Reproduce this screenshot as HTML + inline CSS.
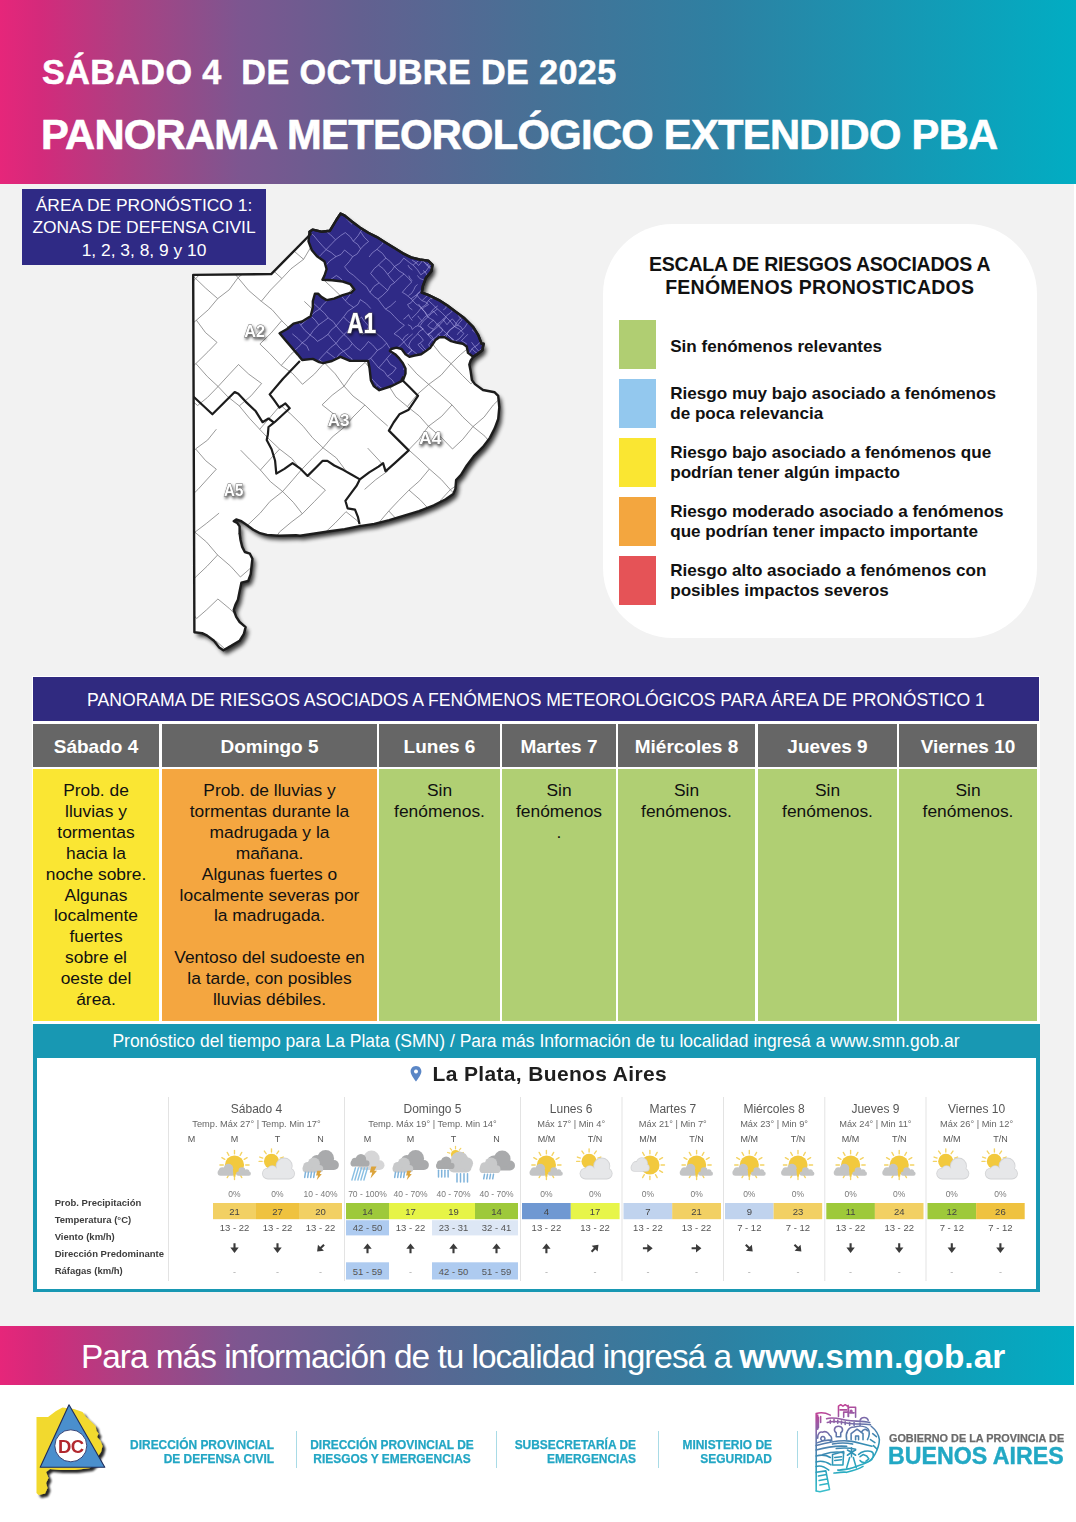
<!DOCTYPE html>
<html lang="es">
<head>
<meta charset="utf-8">
<title>Panorama Meteorológico Extendido PBA</title>
<style>
*{margin:0;padding:0;box-sizing:border-box}
html,body{width:1076px;height:1522px;overflow:hidden;background:#fff}
body{position:relative;font-family:"Liberation Sans",Arial,sans-serif;color:#111}
.abs{position:absolute}
.grad{background:linear-gradient(90deg,#e6267a 0%,#d42a7b 3.7%,#ae3f82 11.2%,#7d5690 22.3%,#636090 33.5%,#467196 50.2%,#2e80a2 66.7%,#1797b3 83.3%,#01adc3 100%)}
#hdr{left:0;top:0;width:1076px;height:184px}
#hdr .l1{left:42px;top:52.5px;font-size:34.2px;letter-spacing:0.37px;-webkit-text-stroke:0.5px #fff;font-weight:bold;color:#fff;white-space:nowrap}
#hdr .l2{left:41px;top:111.3px;font-size:41.7px;letter-spacing:-0.71px;-webkit-text-stroke:0.6px #fff;font-weight:bold;color:#fff;white-space:nowrap}
#main{left:0;top:184px;width:1074px;height:1142px;background:#f2f2f2}
#area{left:22px;top:189px;width:244px;height:76px;background:#2f2a85;color:#fff;text-align:center;font-size:17.4px;line-height:22.4px;padding-top:5px;letter-spacing:0px}
#legend{left:602.7px;top:223.8px;width:434.5px;height:413.8px;background:#fff;border-radius:70px}
.lt{left:0;width:434px;text-align:center;font-weight:bold;font-size:19.5px;line-height:22.7px;color:#111}
.sw{left:16px;width:37px;height:49px}
.li{left:67.5px;margin-top:0.8px;font-weight:bold;font-size:17.1px;line-height:20.5px;color:#111;white-space:nowrap}
#ttl{left:33px;top:677px;width:1006px;height:44px;background:#302a80;color:#fff;text-align:center;font-size:17.6px;line-height:46px}
.th{top:724px;height:43px;background:#666;color:#fff;text-align:center;font-weight:bold;font-size:19px;line-height:45px}
.td{top:769px;height:252px;text-align:center;font-size:17.4px;line-height:20.9px;color:#111;padding-top:11px}
.yel{background:#fae633}.org{background:#f4a640}.grn{background:#b0cf73}
#smn{left:33px;top:1023.5px;width:1006.5px;height:268px;background:#1898b3}
#tblbg{left:32px;top:676px;width:1008px;height:348px;background:#fff}
#smnh{left:0;top:0;width:1006px;height:34px;color:#fff;text-align:center;font-size:17.5px;line-height:35px}
#smnb{left:4px;top:34.5px;width:998.5px;height:230.5px;background:#fff}
#ban{left:0;top:1326px;width:1074px;height:59px}
#ban .t{left:81px;top:12px;font-size:33.4px;color:#fff;white-space:nowrap}
#ban .t span{letter-spacing:-1px}
#foot{left:0;top:0;width:1076px;height:1522px;pointer-events:none}
.ft{font:bold 11.95px "Liberation Sans",Arial,sans-serif;color:#22a6c4;-webkit-text-stroke:0.25px #22a6c4;line-height:14.4px;white-space:nowrap;margin-top:1.7px}
.vd{top:1431px;width:1px;height:37px;background:#a9dbe6}
</style>
</head>
<body>
<div id="hdr" class="abs grad">
  <div class="abs l1">SÁBADO 4&nbsp; DE OCTUBRE DE 2025</div>
  <div class="abs l2">PANORAMA METEOROLÓGICO EXTENDIDO PBA</div>
</div>
<div id="main" class="abs"></div>

<div id="area" class="abs">ÁREA DE PRONÓSTICO 1:<br>ZONAS DE DEFENSA CIVIL<br>1, 2, 3, 8, 9 y 10</div>

<!--MAP-->
<svg class="abs" style="left:180px;top:200px" width="340" height="460" viewBox="180 200 340 460">
<defs><filter id="sh" x="-10%" y="-10%" width="130%" height="130%"><feGaussianBlur in="SourceAlpha" stdDeviation="2"/><feOffset dx="3" dy="4" result="b"/><feComponentTransfer><feFuncA type="linear" slope="0.8"/></feComponentTransfer><feMerge><feMergeNode/><feMergeNode in="SourceGraphic"/></feMerge></filter>
<filter id="ts" x="-30%" y="-30%" width="160%" height="170%"><feGaussianBlur in="SourceAlpha" stdDeviation="1.6"/><feOffset dx="1" dy="2"/><feComponentTransfer><feFuncA type="linear" slope="0.7"/></feComponentTransfer><feMerge><feMergeNode/><feMergeNode in="SourceGraphic"/></feMerge></filter>
<clipPath id="pc"><path d="M193.2,274.9 L271.2,274.1 L310.7,234.0 L309.5,231.7 L312.8,229.6 L321.3,231.7 L329.9,230.7 L333.1,225.3 L336.3,220.0 L340.5,213.6 L344.8,215.7 L351.2,221.0 L359.8,227.4 L368.3,232.8 L376.9,237.1 L385.4,242.4 L394.0,247.8 L402.5,253.1 L411.1,257.4 L419.6,259.5 L428.2,260.6 L432.5,264.9 L431.4,271.3 L426.0,277.7 L422.8,286.2 L421.8,292.6 L428.2,294.8 L438.9,300.1 L447.4,305.5 L456.0,311.9 L464.5,318.3 L473.1,326.8 L478.4,335.4 L481.6,343.9 L483.6,343.8 L482.3,350.3 L477.1,354.2 L473.2,356.8 L470.6,360.7 L469.3,364.6 L470.6,371.1 L471.9,380.1 L474.9,384.1 L483.0,390.0 L494.7,392.3 L498.2,395.8 L499.3,407.4 L498.2,419.0 L494.7,428.3 L490.0,437.6 L483.0,446.9 L473.8,456.2 L466.8,465.5 L461.0,474.8 L456.1,480.0 L455.4,488.9 L453.2,494.1 L445.7,499.3 L433.8,505.3 L419.0,511.2 L404.1,515.7 L389.2,520.1 L374.3,523.9 L359.5,526.1 L344.6,529.1 L329.7,531.3 L314.9,533.5 L300.0,535.8 L296.0,535.2 L278.9,535.8 L267.0,534.9 L260.1,533.2 L253.3,529.8 L246.5,524.7 L241.4,521.2 L236.2,519.5 L233.7,521.2 L237.1,522.9 L239.6,526.4 L239.6,533.2 L240.5,540.0 L242.2,546.9 L244.8,552.0 L249.9,553.7 L252.4,558.8 L251.6,565.6 L250.7,574.2 L248.2,581.0 L241.4,582.7 L239.6,591.2 L237.9,599.8 L235.4,604.9 L233.7,610.0 L236.2,616.9 L239.6,622.0 L245.6,627.1 L243.9,633.9 L239.6,640.8 L231.1,645.9 L223.4,650.2 L219.2,647.6 L214.0,640.8 L207.2,635.6 L202.1,633.1 L194.4,632.2Z"/></clipPath><clipPath id="a1c"><path d="M309.5,231.7 L312.8,229.6 L321.3,231.7 L329.9,230.7 L333.1,225.3 L336.3,220.0 L340.5,213.6 L344.8,215.7 L351.2,221.0 L359.8,227.4 L368.3,232.8 L376.9,237.1 L385.4,242.4 L394.0,247.8 L402.5,253.1 L411.1,257.4 L419.6,259.5 L428.2,260.6 L432.5,264.9 L431.4,271.3 L426.0,277.7 L422.8,286.2 L421.8,292.6 L428.2,294.8 L438.9,300.1 L447.4,305.5 L456.0,311.9 L464.5,318.3 L473.1,326.8 L478.4,335.4 L481.6,343.9 L483.6,343.8 L482.3,350.3 L477.1,354.2 L473.2,356.8 L468.0,352.9 L466.7,346.4 L462.8,343.8 L456.3,342.5 L451.1,341.2 L444.6,337.2 L439.4,337.2 L435.5,339.9 L432.9,343.8 L430.3,347.7 L425.1,351.6 L421.2,354.2 L414.6,355.5 L409.4,356.8 L405.5,354.2 L401.6,349.0 L396.4,347.7 L391.2,349.0 L389.9,350.9 L395.1,354.2 L399.0,358.1 L402.9,363.3 L405.5,368.5 L405.5,373.7 L403.0,380.4 L391.8,386.0 L379.3,390.2 L373.7,386.0 L370.9,380.4 L369.5,367.9 L368.1,360.9 L358.4,360.9 L350.0,360.9 L340.5,356.8 L332.0,361.0 L323.4,363.2 L319.2,362.1 L312.8,358.9 L302.1,360.0 L297.8,354.6 L291.4,347.1 L285.0,339.7 L279.6,333.3 L287.1,329.0 L293.5,323.6 L302.1,321.5 L310.6,316.2 L312.8,307.6 L312.8,301.2 L314.9,293.7 L318.1,293.7 L321.3,296.9 L326.6,300.1 L334.1,298.6 L342.7,295.2 L351.2,292.6 L354.4,289.4 L350.2,284.1 L342.7,281.5 L332.0,280.2 L322.4,279.8 L324.5,275.5 L326.6,269.1 L324.5,261.6 L317.0,256.3 L311.7,249.9 L308.5,241.3Z"/></clipPath></defs>
<style>.ml{font-family:"Liberation Sans",Arial,sans-serif;font-weight:bold;fill:#fff;stroke:#6a6a6a;stroke-width:0.9;paint-order:stroke;filter:url(#ts)}</style>
<path d="M193.2,274.9 L271.2,274.1 L310.7,234.0 L309.5,231.7 L312.8,229.6 L321.3,231.7 L329.9,230.7 L333.1,225.3 L336.3,220.0 L340.5,213.6 L344.8,215.7 L351.2,221.0 L359.8,227.4 L368.3,232.8 L376.9,237.1 L385.4,242.4 L394.0,247.8 L402.5,253.1 L411.1,257.4 L419.6,259.5 L428.2,260.6 L432.5,264.9 L431.4,271.3 L426.0,277.7 L422.8,286.2 L421.8,292.6 L428.2,294.8 L438.9,300.1 L447.4,305.5 L456.0,311.9 L464.5,318.3 L473.1,326.8 L478.4,335.4 L481.6,343.9 L483.6,343.8 L482.3,350.3 L477.1,354.2 L473.2,356.8 L470.6,360.7 L469.3,364.6 L470.6,371.1 L471.9,380.1 L474.9,384.1 L483.0,390.0 L494.7,392.3 L498.2,395.8 L499.3,407.4 L498.2,419.0 L494.7,428.3 L490.0,437.6 L483.0,446.9 L473.8,456.2 L466.8,465.5 L461.0,474.8 L456.1,480.0 L455.4,488.9 L453.2,494.1 L445.7,499.3 L433.8,505.3 L419.0,511.2 L404.1,515.7 L389.2,520.1 L374.3,523.9 L359.5,526.1 L344.6,529.1 L329.7,531.3 L314.9,533.5 L300.0,535.8 L296.0,535.2 L278.9,535.8 L267.0,534.9 L260.1,533.2 L253.3,529.8 L246.5,524.7 L241.4,521.2 L236.2,519.5 L233.7,521.2 L237.1,522.9 L239.6,526.4 L239.6,533.2 L240.5,540.0 L242.2,546.9 L244.8,552.0 L249.9,553.7 L252.4,558.8 L251.6,565.6 L250.7,574.2 L248.2,581.0 L241.4,582.7 L239.6,591.2 L237.9,599.8 L235.4,604.9 L233.7,610.0 L236.2,616.9 L239.6,622.0 L245.6,627.1 L243.9,633.9 L239.6,640.8 L231.1,645.9 L223.4,650.2 L219.2,647.6 L214.0,640.8 L207.2,635.6 L202.1,633.1 L194.4,632.2Z" fill="#fff" filter="url(#sh)"/>
<path clip-path="url(#pc)" stroke="#6e6e6e" stroke-width="0.7" fill="none" d="M173.9,213.9 L165.0,225.0 L155.0,235.5 M218.5,216.6 L205.6,224.5 L195.3,235.3 M195.3,235.3 L185.4,246.5 L174.4,257.2 M174.4,257.2 L183.5,266.2 L195.7,278.6 M259.8,216.3 L272.1,226.6 L281.1,238.0 M237.6,238.3 L250.0,246.7 L260.3,256.9 M237.6,238.3 L227.5,245.9 L217.2,256.2 M217.2,256.2 L228.7,266.2 L238.0,277.7 M217.2,256.2 L207.4,266.4 L195.7,278.6 M195.7,278.6 L205.7,288.2 L217.7,298.6 M195.7,278.6 L185.1,289.2 L173.5,299.9 M173.5,299.9 L164.3,312.2 L153.8,322.1 M302.7,216.2 L311.0,225.4 L322.6,234.9 M302.7,216.2 L291.8,227.9 L281.1,238.0 M281.1,238.0 L291.0,248.5 L303.6,259.3 M281.1,238.0 L269.8,247.2 L260.3,256.9 M260.3,256.9 L269.6,267.2 L281.9,278.5 M260.3,256.9 L250.7,267.5 L238.0,277.7 M238.0,277.7 L248.6,290.4 L261.3,301.3 M238.0,277.7 L229.2,289.8 L217.7,298.6 M217.7,298.6 L208.6,309.5 L196.4,320.2 M196.4,320.2 L205.5,332.6 L217.0,342.4 M196.4,320.2 L184.3,330.6 L175.3,342.6 M175.3,342.6 L165.6,352.4 L154.2,365.2 M345.9,213.9 L354.6,225.0 L364.6,238.3 M322.6,234.9 L332.8,248.7 L345.7,259.0 M322.6,234.9 L311.9,245.3 L303.6,259.3 M303.6,259.3 L291.0,268.8 L281.9,278.5 M281.9,278.5 L270.7,289.9 L261.3,301.3 M261.3,301.3 L272.1,309.7 L281.7,320.7 M217.0,342.4 L207.9,351.8 L195.9,363.6 M195.9,363.6 L207.3,376.5 L218.1,386.5 M195.9,363.6 L184.8,373.5 L175.8,386.6 M175.8,386.6 L185.4,395.0 L197.6,405.5 M410.2,195.2 L422.1,204.8 L430.9,215.1 M387.7,214.6 L400.6,225.1 L410.2,237.5 M387.7,214.6 L376.2,228.1 L364.6,238.3 M364.6,238.3 L378.4,249.3 L388.6,259.5 M364.6,238.3 L356.4,247.6 L345.7,259.0 M345.7,259.0 L333.5,270.8 L323.2,279.4 M323.2,279.4 L333.2,288.7 L343.9,299.1 M304.3,301.4 L312.8,309.4 L322.3,319.8 M281.7,320.7 L292.6,331.5 L302.8,344.0 M281.7,320.7 L271.0,333.2 L259.9,344.0 M259.9,344.0 L269.6,353.4 L281.2,365.5 M238.5,364.5 L248.7,374.1 L261.6,383.5 M238.5,364.5 L229.7,373.9 L218.1,386.5 M218.1,386.5 L227.5,396.5 L239.3,405.9 M218.1,386.5 L207.5,397.4 L197.6,405.5 M173.5,426.6 L165.2,437.5 L153.8,449.0 M430.9,215.1 L441.8,224.0 L449.8,235.8 M430.9,215.1 L419.8,225.6 L410.2,237.5 M388.6,259.5 L398.1,270.5 L407.4,279.0 M365.3,277.3 L353.2,287.3 L343.9,299.1 M343.9,299.1 L334.2,310.9 L322.3,319.8 M322.3,319.8 L311.0,333.3 L302.8,344.0 M302.8,344.0 L312.4,354.1 L324.4,362.8 M302.8,344.0 L291.0,354.2 L281.2,365.5 M281.2,365.5 L292.5,373.4 L302.5,384.3 M261.6,383.5 L251.1,395.8 L239.3,405.9 M239.3,405.9 L249.4,418.2 L259.7,429.3 M216.4,429.2 L207.6,440.1 L195.6,448.9 M195.6,448.9 L205.7,460.7 L216.3,469.2 M195.6,448.9 L185.4,461.9 L175.8,471.6 M175.8,471.6 L166.1,480.7 L154.7,490.8 M471.4,215.1 L481.3,225.2 L493.1,237.5 M471.4,215.1 L459.0,224.1 L449.8,235.8 M449.8,235.8 L460.0,245.9 L470.7,259.1 M449.8,235.8 L442.0,246.8 L431.1,257.2 M431.1,257.2 L442.6,267.9 L452.7,279.0 M431.1,257.2 L419.2,266.4 L407.4,279.0 M407.4,279.0 L396.6,292.0 L386.8,301.7 M324.4,362.8 L335.2,373.8 L344.1,386.2 M324.4,362.8 L314.6,373.9 L302.5,384.3 M280.5,405.2 L290.8,414.1 L303.3,426.4 M280.5,405.2 L270.9,416.4 L259.7,429.3 M259.7,429.3 L267.9,438.0 L279.6,449.1 M240.7,450.2 L249.6,459.3 L260.4,470.0 M216.3,469.2 L205.7,480.9 L197.9,489.5 M197.9,489.5 L186.4,500.7 L176.1,511.6 M176.1,511.6 L185.2,521.8 L194.9,532.2 M176.1,511.6 L164.4,520.2 L155.8,531.8 M514.1,216.1 L523.7,226.4 L536.4,235.7 M493.1,237.5 L505.0,248.3 L514.8,257.6 M493.1,237.5 L481.9,247.2 L470.7,259.1 M470.7,259.1 L460.1,267.8 L452.7,279.0 M452.7,279.0 L442.1,288.7 L429.9,300.3 M408.8,319.7 L420.4,330.1 L431.5,342.7 M365.1,362.4 L374.8,373.7 L387.5,383.8 M365.1,362.4 L353.3,373.2 L344.1,386.2 M344.1,386.2 L353.1,396.1 L364.9,405.0 M344.1,386.2 L332.2,395.2 L322.1,404.8 M322.1,404.8 L334.0,414.3 L344.3,427.2 M303.3,426.4 L312.4,437.6 L323.0,447.8 M279.6,449.1 L291.8,458.5 L301.1,470.1 M279.6,449.1 L270.6,458.7 L260.4,470.0 M260.4,470.0 L270.5,481.7 L282.6,491.5 M219.1,513.1 L206.3,523.5 L194.9,532.2 M194.9,532.2 L206.6,542.1 L217.6,555.0 M194.9,532.2 L185.1,542.2 L175.3,554.8 M514.8,257.6 L524.7,266.5 L536.7,278.3 M514.8,257.6 L505.0,267.4 L495.1,278.2 M495.1,278.2 L484.3,288.1 L471.6,300.8 M471.6,300.8 L481.9,310.7 L493.1,320.8 M471.6,300.8 L461.2,310.3 L449.7,321.8 M449.7,321.8 L461.4,333.6 L473.3,343.9 M431.5,342.7 L441.1,354.7 L451.1,363.7 M407.8,363.7 L416.8,373.9 L428.7,384.4 M387.5,383.8 L395.8,396.9 L407.4,406.6 M364.9,405.0 L376.2,415.9 L387.7,426.0 M364.9,405.0 L353.0,417.0 L344.3,427.2 M344.3,427.2 L332.1,437.1 L323.0,447.8 M323.0,447.8 L336.3,457.9 L346.2,471.1 M323.0,447.8 L313.0,457.6 L301.1,470.1 M301.1,470.1 L311.7,478.9 L325.4,490.1 M301.1,470.1 L293.0,479.6 L282.6,491.5 M282.6,491.5 L293.4,502.4 L302.3,513.8 M282.6,491.5 L270.1,501.3 L260.4,512.9 M260.4,512.9 L248.3,524.5 L237.9,534.3 M217.6,555.0 L230.7,566.3 L240.4,577.0 M217.6,555.0 L207.1,566.2 L196.9,575.9 M196.9,575.9 L184.7,587.7 L174.6,596.3 M174.6,596.3 L186.7,606.8 L196.6,618.5 M174.6,596.3 L163.0,607.3 L153.1,618.5 M514.3,300.4 L505.0,310.0 L493.1,320.8 M493.1,320.8 L504.8,332.0 L514.8,344.4 M493.1,320.8 L482.9,333.5 L473.3,343.9 M473.3,343.9 L460.4,354.7 L451.1,363.7 M451.1,363.7 L462.4,375.4 L470.9,383.8 M451.1,363.7 L441.1,375.2 L428.7,384.4 M428.7,384.4 L439.9,394.2 L452.0,404.9 M428.7,384.4 L417.6,394.1 L407.4,406.6 M407.4,406.6 L419.4,416.1 L428.4,426.3 M367.7,448.1 L379.3,460.6 L387.8,471.0 M325.4,490.1 L314.4,501.5 L302.3,513.8 M302.3,513.8 L291.1,522.3 L279.6,531.9 M279.6,531.9 L271.2,544.6 L260.4,554.8 M260.4,554.8 L252.0,566.8 L240.4,577.0 M217.9,599.0 L229.6,608.7 L238.8,618.0 M217.9,599.0 L206.6,609.8 L196.6,618.5 M176.0,639.2 L185.8,650.0 L196.8,662.5 M176.0,639.2 L164.1,648.5 L153.6,661.2 M514.8,344.4 L502.7,352.4 L493.8,363.5 M493.8,363.5 L482.2,373.3 L470.9,383.8 M452.0,404.9 L463.0,417.2 L473.0,426.6 M452.0,404.9 L441.6,416.4 L428.4,426.3 M428.4,426.3 L441.8,437.9 L452.5,449.0 M428.4,426.3 L418.9,439.3 L408.7,449.9 M408.7,449.9 L419.0,459.1 L429.4,469.0 M387.8,471.0 L375.7,479.7 L364.6,489.4 M346.0,511.7 L357.6,521.0 L366.3,533.7 M346.0,511.7 L335.0,523.2 L324.6,533.0 M324.6,533.0 L332.9,544.5 L344.2,555.8 M301.4,553.9 L289.7,566.6 L279.9,577.4 M279.9,577.4 L271.6,588.8 L260.4,596.7 M260.4,596.7 L270.3,607.6 L281.0,616.9 M238.8,618.0 L248.2,628.8 L259.0,640.9 M216.1,641.0 L227.4,651.2 L238.3,661.4 M514.7,384.1 L526.4,397.7 L534.9,407.8 M514.7,384.1 L505.1,393.4 L493.3,405.0 M493.3,405.0 L484.1,417.1 L473.0,426.6 M473.0,426.6 L485.1,436.4 L494.2,448.3 M473.0,426.6 L462.8,439.3 L452.5,449.0 M429.4,469.0 L441.4,479.6 L450.3,489.7 M429.4,469.0 L419.7,480.7 L409.0,490.1 M409.0,490.1 L420.6,500.2 L431.5,512.1 M409.0,490.1 L398.6,500.6 L388.8,511.0 M388.8,511.0 L398.0,520.8 L410.2,534.3 M388.8,511.0 L378.3,523.3 L366.3,533.7 M366.3,533.7 L376.4,544.9 L388.3,556.0 M366.3,533.7 L355.6,546.2 L344.2,555.8 M344.2,555.8 L355.7,566.6 L366.7,575.8 M302.8,596.5 L314.4,609.0 L323.5,618.5 M302.8,596.5 L293.5,606.5 L281.0,616.9 M281.0,616.9 L291.0,628.7 L304.1,638.3 M259.0,640.9 L270.5,650.5 L282.3,659.2 M515.6,426.0 L527.0,437.2 L536.4,450.3 M515.6,426.0 L503.7,436.8 L494.2,448.3 M494.2,448.3 L504.0,457.5 L515.3,469.0 M494.2,448.3 L482.2,458.6 L473.2,471.1 M473.2,471.1 L482.9,479.3 L492.6,489.8 M473.2,471.1 L461.5,482.1 L450.3,489.7 M450.3,489.7 L462.0,501.4 L470.6,513.3 M450.3,489.7 L441.2,499.6 L431.5,512.1 M431.5,512.1 L440.3,523.2 L452.3,532.8 M410.2,534.3 L418.9,544.5 L428.7,555.3 M410.2,534.3 L399.9,544.7 L388.3,556.0 M388.3,556.0 L400.4,567.0 L409.9,577.5 M388.3,556.0 L378.7,566.7 L366.7,575.8 M366.7,575.8 L376.9,588.5 L386.2,598.2 M366.7,575.8 L354.8,586.1 L343.4,597.9 M343.4,597.9 L356.0,609.5 L367.4,619.3 M323.5,618.5 L333.5,629.7 L344.4,638.5 M304.1,638.3 L315.2,648.7 L325.0,660.2 M282.3,659.2 L291.9,669.6 L302.1,682.2 M282.3,659.2 L273.0,672.3 L260.9,683.2 M515.3,469.0 L525.3,479.9 L536.6,491.0 M515.3,469.0 L503.4,480.9 L492.6,489.8 M492.6,489.8 L503.0,502.9 L513.2,512.9 M470.6,513.3 L481.2,523.2 L493.0,533.9 M470.6,513.3 L462.5,522.2 L452.3,532.8 M452.3,532.8 L461.7,543.4 L472.0,554.9 M428.7,555.3 L439.2,564.8 L451.3,575.6 M409.9,577.5 L419.9,585.1 L428.5,596.1 M409.9,577.5 L396.5,589.0 L386.2,598.2 M386.2,598.2 L397.2,606.8 L410.0,618.6 M386.2,598.2 L377.7,609.6 L367.4,619.3 M344.4,638.5 L356.4,647.5 L365.3,659.4 M513.2,512.9 L523.1,524.5 L535.2,534.2 M493.0,533.9 L502.2,545.0 L514.3,553.5 M472.0,554.9 L485.1,563.8 L494.8,576.1 M472.0,554.9 L460.3,563.5 L451.3,575.6 M428.5,596.1 L439.4,605.2 L452.7,616.7 M428.5,596.1 L419.9,609.0 L410.0,618.6 M410.0,618.6 L421.4,628.2 L429.3,638.4 M410.0,618.6 L397.1,628.8 L386.0,640.9 M365.3,659.4 L354.1,669.0 L345.1,681.2 M514.3,553.5 L525.4,562.4 L534.7,574.4 M514.3,553.5 L505.2,563.1 L494.8,576.1 M494.8,576.1 L505.5,586.6 L514.0,596.5 M494.8,576.1 L485.3,587.6 L473.0,598.3 M473.0,598.3 L483.3,610.1 L494.3,618.6 M452.7,616.7 L439.7,626.4 L429.3,638.4 M429.3,638.4 L441.6,648.0 L452.6,661.1 M514.0,596.5 L502.4,608.6 L494.3,618.6 M494.3,618.6 L505.2,630.2 L514.8,641.2 M473.9,639.1 L484.7,650.7 L492.2,659.1 M514.8,641.2 L524.1,651.0 L534.7,661.7 M514.8,641.2 L504.9,651.2 L492.2,659.1"/>
<path d="M309.5,231.7 L312.8,229.6 L321.3,231.7 L329.9,230.7 L333.1,225.3 L336.3,220.0 L340.5,213.6 L344.8,215.7 L351.2,221.0 L359.8,227.4 L368.3,232.8 L376.9,237.1 L385.4,242.4 L394.0,247.8 L402.5,253.1 L411.1,257.4 L419.6,259.5 L428.2,260.6 L432.5,264.9 L431.4,271.3 L426.0,277.7 L422.8,286.2 L421.8,292.6 L428.2,294.8 L438.9,300.1 L447.4,305.5 L456.0,311.9 L464.5,318.3 L473.1,326.8 L478.4,335.4 L481.6,343.9 L483.6,343.8 L482.3,350.3 L477.1,354.2 L473.2,356.8 L468.0,352.9 L466.7,346.4 L462.8,343.8 L456.3,342.5 L451.1,341.2 L444.6,337.2 L439.4,337.2 L435.5,339.9 L432.9,343.8 L430.3,347.7 L425.1,351.6 L421.2,354.2 L414.6,355.5 L409.4,356.8 L405.5,354.2 L401.6,349.0 L396.4,347.7 L391.2,349.0 L389.9,350.9 L395.1,354.2 L399.0,358.1 L402.9,363.3 L405.5,368.5 L405.5,373.7 L403.0,380.4 L391.8,386.0 L379.3,390.2 L373.7,386.0 L370.9,380.4 L369.5,367.9 L368.1,360.9 L358.4,360.9 L350.0,360.9 L340.5,356.8 L332.0,361.0 L323.4,363.2 L319.2,362.1 L312.8,358.9 L302.1,360.0 L297.8,354.6 L291.4,347.1 L285.0,339.7 L279.6,333.3 L287.1,329.0 L293.5,323.6 L302.1,321.5 L310.6,316.2 L312.8,307.6 L312.8,301.2 L314.9,293.7 L318.1,293.7 L321.3,296.9 L326.6,300.1 L334.1,298.6 L342.7,295.2 L351.2,292.6 L354.4,289.4 L350.2,284.1 L342.7,281.5 L332.0,280.2 L322.4,279.8 L324.5,275.5 L326.6,269.1 L324.5,261.6 L317.0,256.3 L311.7,249.9 L308.5,241.3Z" fill="#2f2a86"/>
<path clip-path="url(#a1c)" stroke="#b9b3ef" stroke-width="0.55" fill="none" d="M292.3,199.0 L296.8,202.7 L300.9,207.4 M292.3,199.0 L288.9,202.0 L285.6,206.0 M285.6,206.0 L290.1,210.4 L293.7,214.2 M285.6,206.0 L282.3,209.9 L276.7,215.6 M317.9,190.3 L321.8,194.2 L326.8,198.8 M317.9,190.3 L315.0,193.2 L310.1,198.0 M310.1,198.0 L314.7,202.1 L318.8,207.4 M310.1,198.0 L305.4,203.6 L300.9,207.4 M300.9,207.4 L296.3,210.4 L293.7,214.2 M293.7,214.2 L289.5,218.9 L285.8,223.0 M285.8,223.0 L290.3,227.4 L294.1,231.0 M285.8,223.0 L280.7,228.3 L275.9,231.9 M335.1,190.2 L339.1,194.1 L343.0,198.7 M335.1,190.2 L330.7,194.1 L326.8,198.8 M318.8,207.4 L315.0,210.8 L311.3,214.9 M311.3,214.9 L307.5,217.9 L302.8,222.5 M302.8,222.5 L305.6,228.4 L309.4,232.4 M302.8,222.5 L299.5,226.9 L294.1,231.0 M294.1,231.0 L297.9,237.4 L301.5,241.8 M284.8,240.3 L281.1,243.6 L276.9,248.6 M343.0,198.7 L339.6,202.8 L335.0,206.7 M335.0,206.7 L341.1,211.9 L344.9,215.7 M318.6,224.0 L324.0,229.0 L327.1,232.1 M309.4,232.4 L313.6,235.4 L317.8,240.6 M301.5,241.8 L296.9,246.4 L292.4,249.6 M292.4,249.6 L297.3,252.9 L302.6,257.4 M292.4,249.6 L287.7,253.6 L283.6,257.0 M283.6,257.0 L278.5,260.0 L275.3,265.2 M360.0,199.4 L355.7,202.4 L351.6,207.8 M351.6,207.8 L355.6,212.8 L361.9,216.0 M351.6,207.8 L347.8,211.7 L344.9,215.7 M344.9,215.7 L347.6,220.1 L351.6,223.9 M334.5,224.1 L330.3,227.1 L327.1,232.1 M327.1,232.1 L330.6,234.8 L335.5,239.8 M317.8,240.6 L322.5,245.9 L326.1,249.6 M310.9,248.2 L314.4,254.1 L317.6,258.3 M302.6,257.4 L306.4,262.5 L310.5,266.0 M302.6,257.4 L297.2,261.4 L292.6,265.4 M292.6,265.4 L296.9,270.9 L302.6,275.6 M284.6,274.9 L280.3,280.1 L276.4,284.0 M387.0,190.4 L390.5,194.4 L394.0,197.6 M387.0,190.4 L382.1,193.0 L378.0,197.9 M378.0,197.9 L373.7,202.7 L368.9,207.4 M368.9,207.4 L366.6,212.3 L361.9,216.0 M361.9,216.0 L357.3,219.6 L351.6,223.9 M345.3,232.6 L350.3,236.8 L353.3,241.3 M345.3,232.6 L340.9,235.4 L335.5,239.8 M335.5,239.8 L331.7,243.8 L326.1,249.6 M326.1,249.6 L331.2,252.5 L336.0,256.6 M326.1,249.6 L321.1,254.5 L317.6,258.3 M310.5,266.0 L313.2,270.5 L318.1,274.6 M310.5,266.0 L307.1,270.9 L302.6,275.6 M284.9,291.3 L289.1,294.9 L294.3,300.6 M385.8,207.4 L390.6,212.3 L395.6,215.2 M385.8,207.4 L381.1,212.2 L378.1,214.7 M368.9,223.1 L363.9,227.4 L360.5,231.7 M360.5,231.7 L364.3,237.3 L368.6,241.5 M360.5,231.7 L358.0,235.8 L353.3,241.3 M353.3,241.3 L357.7,244.4 L360.6,248.9 M344.6,250.0 L348.4,253.2 L352.7,256.6 M344.6,250.0 L341.0,254.4 L336.0,256.6 M336.0,256.6 L329.9,260.8 L326.0,265.3 M326.0,265.3 L323.1,271.1 L318.1,274.6 M318.1,274.6 L314.2,277.9 L310.9,283.2 M310.9,283.2 L315.7,287.2 L319.3,292.0 M310.9,283.2 L306.3,288.0 L301.5,290.9 M301.5,290.9 L297.7,295.1 L294.3,300.6 M294.3,300.6 L289.2,304.9 L284.3,307.4 M284.3,307.4 L288.6,313.7 L293.1,317.7 M284.3,307.4 L280.9,312.2 L277.4,316.4 M411.6,199.2 L416.7,202.3 L421.3,205.8 M404.4,207.7 L408.5,211.8 L411.6,215.7 M395.6,215.2 L399.1,219.0 L404.3,223.3 M395.6,215.2 L390.3,220.2 L387.2,223.8 M387.2,223.8 L391.6,228.6 L396.2,232.5 M387.2,223.8 L381.3,228.2 L377.1,231.5 M377.1,231.5 L382.2,235.6 L385.4,239.7 M368.6,241.5 L364.2,245.0 L360.6,248.9 M360.6,248.9 L357.2,253.9 L352.7,256.6 M352.7,256.6 L349.2,261.7 L344.6,266.8 M344.6,266.8 L348.9,272.1 L353.6,275.4 M336.3,275.5 L340.4,278.2 L344.2,282.9 M336.3,275.5 L332.5,278.2 L326.7,282.2 M326.7,282.2 L323.5,286.6 L319.3,292.0 M319.3,292.0 L323.7,295.4 L326.8,301.1 M309.8,299.6 L314.2,303.9 L319.7,309.0 M309.8,299.6 L305.9,303.7 L300.8,309.3 M300.8,309.3 L305.2,312.9 L310.9,316.0 M300.8,309.3 L297.6,314.0 L293.1,317.7 M293.1,317.7 L297.1,320.6 L300.8,325.1 M293.1,317.7 L289.0,320.7 L284.3,325.0 M284.3,325.0 L281.4,329.9 L276.2,334.5 M429.5,198.2 L434.1,203.2 L437.6,207.7 M429.5,198.2 L425.8,202.6 L421.3,205.8 M421.3,205.8 L417.6,211.7 L411.6,215.7 M411.6,215.7 L416.8,221.2 L419.9,224.4 M411.6,215.7 L407.2,218.9 L404.3,223.3 M404.3,223.3 L406.7,227.0 L410.8,231.9 M396.2,232.5 L400.6,236.0 L404.6,240.0 M385.4,239.7 L390.0,243.8 L394.7,249.3 M385.4,239.7 L382.1,244.2 L377.0,249.3 M377.0,249.3 L382.5,253.4 L385.9,258.1 M377.0,249.3 L372.2,252.9 L369.1,257.0 M353.6,275.4 L356.5,278.1 L361.5,282.7 M344.2,282.9 L347.7,287.2 L351.7,290.5 M344.2,282.9 L339.9,287.1 L335.1,291.8 M335.1,291.8 L340.9,295.5 L345.3,300.7 M326.8,301.1 L323.1,304.4 L319.7,309.0 M319.7,309.0 L324.5,313.2 L328.2,318.0 M319.7,309.0 L315.0,311.9 L310.9,316.0 M310.9,316.0 L315.4,320.3 L318.7,324.9 M310.9,316.0 L306.7,319.7 L300.8,325.1 M300.8,325.1 L304.7,330.2 L310.2,335.1 M292.3,333.8 L298.3,338.8 L302.2,342.8 M285.9,343.2 L289.8,346.0 L294.0,350.7 M285.9,343.2 L282.5,346.2 L277.3,350.2 M437.6,207.7 L433.6,212.7 L430.0,216.1 M430.0,216.1 L432.7,218.6 L436.7,223.5 M430.0,216.1 L425.1,219.5 L419.9,224.4 M419.9,224.4 L424.8,228.0 L429.1,233.1 M410.8,231.9 L406.8,236.1 L404.6,240.0 M404.6,240.0 L407.1,244.7 L411.6,248.4 M404.6,240.0 L399.1,244.0 L394.7,249.3 M385.9,258.1 L390.3,261.6 L394.4,266.5 M385.9,258.1 L382.3,261.1 L378.4,265.1 M378.4,265.1 L383.2,268.6 L387.7,274.3 M378.4,265.1 L374.3,268.5 L370.6,273.5 M370.6,273.5 L375.0,278.5 L379.1,282.9 M361.5,282.7 L366.4,286.6 L369.9,292.4 M351.7,290.5 L349.3,295.7 L345.3,300.7 M345.3,300.7 L348.7,304.0 L353.7,307.4 M328.2,318.0 L333.3,321.6 L336.2,325.8 M328.2,318.0 L323.3,321.6 L318.7,324.9 M318.7,324.9 L313.3,330.5 L310.2,335.1 M310.2,335.1 L314.7,338.4 L317.4,341.4 M310.2,335.1 L306.3,339.6 L302.2,342.8 M302.2,342.8 L306.7,345.7 L309.0,350.7 M302.2,342.8 L298.3,347.2 L294.0,350.7 M294.0,350.7 L298.3,354.4 L300.5,359.5 M294.0,350.7 L289.5,355.1 L284.8,360.2 M284.8,360.2 L288.9,364.6 L293.5,367.2 M284.8,360.2 L280.6,364.7 L275.5,368.7 M463.5,198.1 L468.4,201.5 L471.4,206.0 M463.5,198.1 L458.2,203.1 L454.3,207.1 M454.3,207.1 L449.3,211.3 L446.2,215.0 M446.2,215.0 L450.2,219.1 L454.0,222.4 M446.2,215.0 L440.3,220.0 L436.7,223.5 M436.7,223.5 L432.2,228.1 L429.1,233.1 M429.1,233.1 L426.4,235.9 L421.6,240.7 M421.6,240.7 L416.8,245.7 L411.6,248.4 M403.8,258.1 L409.5,262.6 L413.1,265.1 M403.8,258.1 L399.7,263.3 L394.4,266.5 M394.4,266.5 L399.0,270.9 L404.1,273.9 M394.4,266.5 L392.1,270.2 L387.7,274.3 M387.7,274.3 L390.3,277.9 L394.6,282.6 M379.1,282.9 L384.3,287.4 L387.7,290.5 M379.1,282.9 L374.0,286.4 L369.9,292.4 M369.9,292.4 L374.7,296.9 L377.9,299.1 M360.3,299.6 L366.6,303.9 L370.7,308.5 M360.3,299.6 L358.0,304.3 L353.7,307.4 M353.7,307.4 L347.7,311.4 L343.6,316.9 M343.6,316.9 L347.7,321.2 L353.2,325.1 M343.6,316.9 L339.2,322.2 L336.2,325.8 M336.2,325.8 L338.8,329.0 L343.9,334.5 M336.2,325.8 L331.0,330.2 L328.1,334.3 M328.1,334.3 L332.0,339.1 L336.1,343.4 M328.1,334.3 L322.1,338.7 L317.4,341.4 M300.5,359.5 L305.3,363.5 L309.9,368.0 M293.5,367.2 L296.4,371.2 L300.6,375.4 M293.5,367.2 L290.7,371.3 L285.5,376.2 M285.5,376.2 L288.9,381.0 L292.7,383.9 M285.5,376.2 L281.5,380.6 L277.3,384.5 M480.7,199.0 L476.3,203.6 L471.4,206.0 M471.4,206.0 L467.2,210.5 L463.7,214.2 M454.0,222.4 L451.0,226.8 L447.1,231.9 M447.1,231.9 L450.2,235.9 L455.3,239.7 M447.1,231.9 L442.1,236.1 L438.1,241.3 M438.1,241.3 L441.8,246.4 L445.9,249.2 M438.1,241.3 L433.7,245.6 L429.1,250.3 M429.1,250.3 L433.6,253.8 L436.5,257.1 M429.1,250.3 L424.8,253.7 L421.1,258.6 M421.1,258.6 L424.2,262.0 L429.2,266.5 M421.1,258.6 L416.9,262.0 L413.1,265.1 M413.1,265.1 L417.5,269.8 L420.8,274.8 M404.1,273.9 L408.6,278.4 L411.7,282.0 M404.1,273.9 L399.5,277.7 L394.6,282.6 M394.6,282.6 L390.5,285.4 L387.7,290.5 M387.7,290.5 L382.2,295.8 L377.9,299.1 M377.9,299.1 L381.5,304.0 L385.5,309.1 M361.5,317.0 L364.2,321.0 L368.8,326.3 M361.5,317.0 L356.8,321.3 L353.2,325.1 M353.2,325.1 L348.0,330.7 L343.9,334.5 M343.9,334.5 L347.8,338.0 L352.3,343.5 M343.9,334.5 L339.3,339.2 L336.1,343.4 M336.1,343.4 L339.8,348.0 L343.5,351.1 M336.1,343.4 L330.9,347.3 L326.7,351.7 M326.7,351.7 L331.9,355.7 L336.0,358.8 M326.7,351.7 L322.5,356.0 L319.2,359.6 M319.2,359.6 L324.0,363.3 L326.8,366.9 M319.2,359.6 L315.0,363.8 L309.9,368.0 M309.9,368.0 L315.0,372.1 L319.3,375.6 M300.6,375.4 L304.9,381.0 L309.3,384.3 M292.7,383.9 L296.9,388.0 L302.0,393.7 M292.7,383.9 L288.0,388.7 L283.6,393.9 M283.6,393.9 L288.4,398.4 L293.2,402.7 M283.6,393.9 L280.6,398.5 L276.8,402.1 M495.7,199.0 L500.5,202.3 L506.5,207.9 M495.7,199.0 L492.7,202.6 L488.9,206.6 M488.9,206.6 L493.5,209.5 L497.5,214.6 M488.9,206.6 L483.8,211.6 L478.7,214.5 M478.7,214.5 L474.9,218.1 L472.3,223.5 M462.2,232.9 L465.6,235.6 L471.0,239.5 M455.3,239.7 L451.6,244.2 L445.9,249.2 M445.9,249.2 L449.2,253.9 L453.9,256.6 M436.5,257.1 L440.7,260.8 L445.9,265.0 M436.5,257.1 L431.7,262.8 L429.2,266.5 M429.2,266.5 L432.4,269.3 L436.6,274.4 M429.2,266.5 L426.0,271.2 L420.8,274.8 M411.7,282.0 L406.5,287.4 L402.3,292.3 M402.3,292.3 L406.0,294.5 L411.1,298.8 M395.9,301.0 L390.6,305.9 L385.5,309.1 M385.5,309.1 L390.3,312.2 L394.5,316.6 M368.8,326.3 L373.4,330.1 L378.0,334.7 M368.8,326.3 L366.4,331.7 L361.8,334.7 M352.3,343.5 L356.7,348.0 L360.4,350.6 M352.3,343.5 L348.9,348.0 L343.5,351.1 M343.5,351.1 L347.6,355.6 L352.3,359.1 M343.5,351.1 L339.2,354.2 L336.0,358.8 M336.0,358.8 L341.6,364.4 L345.2,367.7 M326.8,366.9 L331.9,372.7 L335.8,377.5 M326.8,366.9 L323.1,370.4 L319.3,375.6 M319.3,375.6 L323.0,380.0 L327.5,385.1 M309.3,384.3 L313.7,389.5 L319.4,392.9 M293.2,402.7 L297.5,407.4 L301.7,410.5 M285.3,409.6 L288.7,414.7 L292.1,419.4 M285.3,409.6 L280.2,414.4 L276.3,418.0 M506.5,207.9 L502.2,211.3 L497.5,214.6 M497.5,214.6 L500.0,219.4 L504.5,223.0 M488.7,223.6 L493.0,228.7 L496.0,232.1 M471.0,239.5 L476.5,243.7 L479.8,248.2 M462.8,249.2 L458.6,251.9 L453.9,256.6 M453.9,256.6 L449.6,260.3 L445.9,265.0 M436.6,274.4 L442.4,277.4 L447.1,282.0 M428.6,283.0 L433.5,287.5 L437.2,291.4 M420.5,291.2 L416.0,295.2 L411.1,298.8 M411.1,298.8 L415.8,303.9 L421.4,307.6 M394.5,316.6 L399.2,321.5 L404.4,325.3 M378.0,334.7 L381.8,337.8 L386.6,343.1 M368.4,341.5 L372.6,344.9 L377.3,350.4 M368.4,341.5 L365.3,345.5 L360.4,350.6 M352.3,359.1 L348.2,363.8 L345.2,367.7 M345.2,367.7 L350.3,372.0 L353.2,376.2 M345.2,367.7 L341.5,372.9 L335.8,377.5 M335.8,377.5 L340.8,380.0 L345.1,384.2 M335.8,377.5 L332.5,381.2 L327.5,385.1 M327.5,385.1 L323.4,388.4 L319.4,392.9 M319.4,392.9 L314.0,397.7 L309.0,402.9 M309.0,402.9 L312.6,406.9 L317.6,410.0 M309.0,402.9 L304.4,406.4 L301.7,410.5 M504.5,223.0 L509.8,227.0 L512.9,231.5 M504.5,223.0 L501.4,228.1 L496.0,232.1 M496.0,232.1 L500.7,235.8 L506.0,240.7 M496.0,232.1 L492.2,236.7 L488.5,240.5 M488.5,240.5 L492.5,244.6 L496.5,250.2 M488.5,240.5 L483.8,244.8 L479.8,248.2 M479.8,248.2 L475.6,251.9 L471.9,257.7 M471.9,257.7 L476.2,263.0 L480.0,266.9 M471.9,257.7 L468.3,263.3 L462.4,266.9 M462.4,266.9 L466.8,271.0 L471.1,274.4 M462.4,266.9 L458.6,271.7 L455.5,275.6 M455.5,275.6 L459.1,280.0 L463.1,284.2 M455.5,275.6 L451.2,278.3 L447.1,282.0 M447.1,282.0 L451.0,286.9 L454.7,290.7 M447.1,282.0 L442.1,287.1 L437.2,291.4 M437.2,291.4 L442.8,294.8 L446.1,299.6 M437.2,291.4 L432.9,296.5 L428.4,300.6 M428.4,300.6 L432.6,304.4 L437.4,309.0 M428.4,300.6 L425.6,305.0 L421.4,307.6 M421.4,307.6 L424.8,312.2 L427.8,317.0 M421.4,307.6 L417.3,312.9 L412.0,318.1 M404.4,325.3 L398.3,330.3 L394.1,333.8 M394.1,333.8 L399.4,337.1 L403.8,341.9 M386.6,343.1 L389.5,347.9 L394.4,350.9 M386.6,343.1 L381.8,347.9 L377.3,350.4 M377.3,350.4 L374.5,354.0 L370.7,358.2 M370.7,358.2 L374.2,362.4 L378.7,367.9 M370.7,358.2 L365.5,361.8 L361.3,366.9 M361.3,366.9 L357.4,372.3 L353.2,376.2 M353.2,376.2 L350.2,381.2 L345.1,384.2 M345.1,384.2 L341.6,388.8 L336.5,392.7 M336.5,392.7 L339.5,397.9 L343.1,402.1 M336.5,392.7 L332.3,397.5 L326.0,400.8 M506.0,240.7 L510.5,244.1 L512.9,250.0 M496.5,250.2 L501.1,253.2 L505.8,256.4 M496.5,250.2 L492.8,254.3 L488.5,256.9 M488.5,256.9 L491.5,262.2 L495.8,266.2 M488.5,256.9 L483.1,261.5 L480.0,266.9 M480.0,266.9 L475.0,270.5 L471.1,274.4 M463.1,284.2 L467.7,286.3 L471.5,290.8 M463.1,284.2 L458.6,287.8 L454.7,290.7 M454.7,290.7 L457.5,295.8 L462.5,299.2 M454.7,290.7 L449.4,294.2 L446.1,299.6 M446.1,299.6 L449.7,303.7 L454.3,307.4 M437.4,309.0 L441.9,312.8 L446.3,317.3 M437.4,309.0 L431.6,313.3 L427.8,317.0 M427.8,317.0 L434.1,320.8 L438.4,326.1 M427.8,317.0 L423.2,321.2 L420.0,325.7 M420.0,325.7 L424.3,330.9 L427.9,334.8 M412.7,333.9 L408.4,337.5 L403.8,341.9 M403.8,341.9 L407.9,347.0 L412.0,349.9 M403.8,341.9 L399.7,346.0 L394.4,350.9 M394.4,350.9 L398.6,355.3 L404.0,358.6 M394.4,350.9 L390.0,354.7 L386.6,358.7 M386.6,358.7 L390.4,364.3 L396.2,368.0 M386.6,358.7 L382.4,363.7 L378.7,367.9 M378.7,367.9 L384.1,371.4 L387.5,376.3 M369.2,375.8 L373.6,380.8 L377.6,385.2 M369.2,375.8 L365.5,381.4 L361.9,385.8 M353.6,392.7 L348.1,397.5 L343.1,402.1 M343.1,402.1 L348.7,404.9 L353.1,409.7 M343.1,402.1 L338.2,405.8 L334.5,411.2 M495.8,266.2 L492.8,271.4 L489.4,274.8 M489.4,274.8 L493.0,278.1 L497.2,282.6 M489.4,274.8 L484.8,279.5 L480.8,282.1 M480.8,282.1 L484.5,288.3 L489.4,292.5 M471.5,290.8 L476.0,295.7 L481.0,299.5 M471.5,290.8 L467.5,294.3 L462.5,299.2 M462.5,299.2 L459.4,304.1 L454.3,307.4 M454.3,307.4 L457.6,312.7 L462.5,315.9 M446.3,317.3 L451.1,322.1 L454.4,326.6 M446.3,317.3 L442.8,321.5 L438.4,326.1 M438.4,326.1 L443.3,330.4 L446.5,333.6 M438.4,326.1 L433.0,330.9 L427.9,334.8 M427.9,334.8 L431.8,339.2 L436.9,343.5 M420.6,343.5 L423.6,347.6 L427.9,351.7 M412.0,349.9 L408.3,353.4 L404.0,358.6 M404.0,358.6 L407.6,363.4 L413.1,368.2 M396.2,368.0 L392.8,372.6 L387.5,376.3 M387.5,376.3 L392.3,380.1 L395.3,384.9 M377.6,385.2 L383.5,389.8 L387.4,394.3 M377.6,385.2 L373.1,389.2 L370.0,393.2 M370.0,393.2 L366.4,397.5 L360.5,401.6 M360.5,401.6 L357.4,405.9 L353.1,409.7 M353.1,409.7 L348.1,415.0 L343.3,418.8 M504.7,273.9 L508.8,279.3 L513.6,283.1 M497.2,282.6 L499.8,288.3 L504.8,292.6 M497.2,282.6 L492.7,287.3 L489.4,292.5 M489.4,292.5 L493.6,296.5 L496.1,299.1 M481.0,299.5 L476.0,304.7 L471.4,307.5 M471.4,307.5 L475.5,310.9 L480.4,315.9 M471.4,307.5 L466.4,312.0 L462.5,315.9 M462.5,315.9 L468.0,320.4 L471.8,325.1 M462.5,315.9 L457.5,321.3 L454.4,326.6 M454.4,326.6 L459.2,329.1 L463.9,333.5 M454.4,326.6 L450.5,329.1 L446.5,333.6 M446.5,333.6 L451.2,338.0 L454.2,342.0 M446.5,333.6 L442.0,337.5 L436.9,343.5 M436.9,343.5 L440.3,347.0 L446.0,350.4 M436.9,343.5 L431.8,346.7 L427.9,351.7 M427.9,351.7 L425.0,355.8 L421.3,358.4 M421.3,358.4 L425.6,362.5 L429.4,367.4 M413.1,368.2 L408.6,371.3 L403.2,376.2 M403.2,376.2 L407.1,380.7 L412.5,385.2 M395.3,384.9 L390.3,389.5 L387.4,394.3 M387.4,394.3 L382.8,398.1 L377.6,400.6 M496.1,299.1 L491.7,304.1 L488.5,308.1 M488.5,308.1 L493.8,313.2 L497.3,317.0 M488.5,308.1 L483.6,312.4 L480.4,315.9 M480.4,315.9 L483.9,320.1 L487.4,325.4 M480.4,315.9 L476.5,320.8 L471.8,325.1 M471.8,325.1 L475.3,330.4 L480.9,333.7 M463.9,333.5 L459.4,338.7 L454.2,342.0 M446.0,350.4 L449.5,355.5 L455.3,359.6 M437.8,359.2 L441.0,363.1 L445.5,367.4 M429.4,367.4 L424.2,371.2 L420.4,376.5 M420.4,376.5 L417.4,380.6 L412.5,385.2 M412.5,385.2 L416.4,388.5 L420.7,393.5 M403.3,392.3 L407.1,396.2 L411.3,400.7 M403.3,392.3 L398.0,397.8 L394.1,401.0 M394.1,401.0 L390.8,406.2 L385.8,409.5 M504.2,307.5 L509.3,312.8 L514.4,317.1 M504.2,307.5 L501.9,311.5 L497.3,317.0 M487.4,325.4 L492.5,329.2 L495.8,334.0 M487.4,325.4 L484.3,330.7 L480.9,333.7 M480.9,333.7 L485.9,338.9 L489.3,343.3 M471.5,342.2 L475.7,347.8 L479.1,351.5 M455.3,359.6 L449.7,363.5 L445.5,367.4 M436.7,377.4 L441.1,380.4 L446.5,384.7 M429.8,384.6 L434.0,388.7 L437.0,394.2 M429.8,384.6 L426.4,388.1 L420.7,393.5 M420.7,393.5 L424.2,398.2 L428.7,401.6 M420.7,393.5 L416.4,396.5 L411.3,400.7 M411.3,400.7 L408.1,404.0 L404.1,409.5 M495.8,334.0 L501.7,338.4 L506.3,343.4 M495.8,334.0 L493.5,339.1 L489.3,343.3 M489.3,343.3 L492.1,347.5 L497.0,351.0 M489.3,343.3 L483.5,346.3 L479.1,351.5 M479.1,351.5 L483.9,354.7 L487.5,359.0 M472.1,359.3 L476.4,363.8 L479.2,367.2 M463.7,367.1 L466.8,372.3 L471.6,375.9 M454.0,376.4 L458.0,379.7 L463.5,385.0 M454.0,376.4 L451.4,380.1 L446.5,384.7 M446.5,384.7 L450.9,387.4 L455.2,392.3 M437.0,394.2 L431.7,398.9 L428.7,401.6 M506.3,343.4 L511.5,347.9 L514.5,351.8 M506.3,343.4 L502.8,347.7 L497.0,351.0 M497.0,351.0 L501.8,355.9 L504.7,360.4 M487.5,359.0 L491.3,364.1 L496.5,367.8 M487.5,359.0 L482.6,362.0 L479.2,367.2 M479.2,367.2 L483.4,372.5 L489.4,376.5 M479.2,367.2 L476.1,372.5 L471.6,375.9 M471.6,375.9 L467.3,381.2 L463.5,385.0 M463.5,385.0 L467.9,388.5 L470.2,392.8 M455.2,392.3 L459.1,397.0 L461.9,402.6 M455.2,392.3 L451.5,397.9 L446.7,401.8 M446.7,401.8 L449.5,405.9 L453.8,411.4 M504.7,360.4 L500.6,362.9 L496.5,367.8 M496.5,367.8 L501.6,370.9 L506.2,375.3 M489.4,376.5 L493.3,381.5 L497.6,385.7 M489.4,376.5 L485.2,380.0 L480.3,383.9 M480.3,383.9 L483.5,388.8 L488.7,392.9 M506.2,375.3 L502.0,379.7 L497.6,385.7 M497.6,385.7 L501.0,388.8 L506.4,393.7 M497.6,385.7 L492.6,389.4 L488.7,392.9 M488.7,392.9 L485.6,397.6 L480.6,400.8 M480.6,400.8 L484.4,404.7 L487.8,410.1 M480.6,400.8 L474.8,405.4 L470.3,411.4 M506.4,393.7 L509.1,398.6 L514.0,402.1 M496.9,400.7 L491.2,406.3 L487.8,410.1 M504.6,409.3 L509.1,414.7 L514.5,419.1 M504.6,409.3 L500.5,413.5 L497.3,419.3 M407.3,236.2 L405.6,237.6 L402.6,240.7 M416.9,235.4 L420.4,237.4 L423.1,240.0 M416.9,235.4 L414.2,236.8 L413.3,240.1 M413.3,240.1 L415.3,242.4 L417.0,245.0 M413.3,240.1 L410.3,241.8 L408.1,245.5 M408.1,245.5 L405.0,248.2 L402.0,251.5 M427.1,236.5 L429.3,238.6 L433.2,241.4 M427.1,236.5 L424.3,237.3 L423.1,240.0 M423.1,240.0 L424.7,243.6 L428.2,245.7 M423.1,240.0 L419.9,242.6 L417.0,245.0 M417.0,245.0 L419.4,248.1 L423.3,250.1 M417.0,245.0 L415.0,247.7 L413.1,250.9 M413.1,250.9 L410.9,254.3 L407.6,256.3 M433.2,241.4 L430.8,243.7 L428.2,245.7 M428.2,245.7 L430.8,248.6 L432.1,250.0 M428.2,245.7 L426.3,248.2 L423.3,250.1 M423.3,250.1 L426.5,252.2 L428.1,256.0 M423.3,250.1 L420.4,253.2 L418.0,254.6 M418.0,254.6 L420.4,256.9 L422.5,260.7 M412.2,260.3 L415.9,262.5 L418.6,265.5 M408.0,265.1 L409.6,268.0 L412.4,269.9 M442.0,240.2 L439.2,243.0 L438.1,244.9 M438.1,244.9 L435.9,247.5 L432.1,250.0 M432.1,250.0 L435.1,252.1 L438.2,254.9 M432.1,250.0 L430.8,253.9 L428.1,256.0 M428.1,256.0 L429.9,257.6 L432.0,260.0 M422.5,260.7 L424.4,262.7 L426.8,265.0 M422.5,260.7 L420.5,263.3 L418.6,265.5 M408.8,275.6 L409.9,278.1 L412.1,280.8 M457.3,235.5 L455.7,238.0 L452.0,241.2 M452.0,241.2 L454.4,243.0 L458.4,245.9 M446.7,246.4 L444.2,248.0 L442.7,250.6 M438.2,254.9 L439.8,258.5 L443.0,260.1 M432.0,260.0 L429.9,263.0 L426.8,265.0 M426.8,265.0 L429.0,267.5 L432.1,269.8 M423.0,270.4 L425.6,272.5 L427.5,276.1 M417.4,275.4 L419.8,278.5 L423.2,279.7 M466.8,235.6 L468.5,238.6 L472.0,240.6 M462.0,240.5 L459.3,243.7 L458.4,245.9 M458.4,245.9 L461.1,249.2 L462.2,250.5 M458.4,245.9 L456.2,248.2 L453.2,249.9 M453.2,249.9 L450.5,251.4 L447.3,254.6 M443.0,260.1 L439.5,262.2 L437.2,264.4 M437.2,264.4 L433.8,266.1 L432.1,269.8 M432.1,269.8 L434.5,272.0 L438.1,275.4 M432.1,269.8 L429.6,273.4 L427.5,276.1 M423.2,279.7 L426.1,282.5 L427.5,284.9 M417.6,284.5 L415.4,286.3 L413.8,289.8 M413.8,289.8 L411.5,293.5 L408.5,295.5 M466.9,244.9 L468.6,248.0 L472.3,250.6 M456.8,255.8 L458.8,258.8 L462.9,260.5 M452.0,259.6 L450.3,262.9 L447.2,265.2 M447.2,265.2 L445.4,267.6 L441.9,270.5 M441.9,270.5 L444.4,272.2 L447.6,274.5 M438.1,275.4 L439.4,277.7 L441.7,279.3 M438.1,275.4 L435.2,277.1 L433.1,279.2 M433.1,279.2 L435.2,282.2 L436.9,285.6 M427.5,284.9 L430.7,286.8 L431.9,290.0 M427.5,284.9 L424.2,286.4 L421.9,289.9 M421.9,289.9 L425.9,292.0 L428.3,295.0 M421.9,289.9 L419.5,292.0 L417.0,295.0 M417.0,295.0 L418.7,297.6 L422.1,300.7 M417.0,295.0 L415.6,298.0 L413.1,299.9 M413.1,299.9 L411.1,302.7 L407.6,304.5 M407.6,304.5 L409.3,307.7 L412.4,309.9 M483.1,241.3 L485.8,243.5 L488.1,245.3 M476.6,245.8 L480.5,248.2 L482.6,250.6 M476.6,245.8 L475.4,248.0 L472.3,250.6 M472.3,250.6 L475.4,252.2 L477.8,254.7 M472.3,250.6 L469.3,253.0 L467.1,255.0 M467.1,255.0 L469.7,258.1 L471.6,259.6 M456.9,264.9 L460.3,266.4 L462.4,269.5 M456.9,264.9 L453.7,266.5 L452.1,269.7 M452.1,269.7 L450.3,272.1 L447.6,274.5 M447.6,274.5 L450.7,276.1 L452.6,279.5 M441.7,279.3 L439.2,281.5 L436.9,285.6 M436.9,285.6 L434.4,288.6 L431.9,290.0 M431.9,290.0 L430.6,292.9 L428.3,295.0 M428.3,295.0 L430.6,297.2 L431.8,299.1 M428.3,295.0 L425.3,297.4 L422.1,300.7 M422.1,300.7 L426.1,302.3 L428.5,304.6 M418.6,304.1 L419.7,305.7 L422.0,309.3 M408.5,314.6 L409.6,316.9 L412.3,320.5 M408.5,314.6 L406.2,317.2 L403.4,319.3 M496.6,235.4 L493.9,237.7 L492.3,241.1 M492.3,241.1 L493.9,243.6 L497.4,246.2 M492.3,241.1 L490.0,244.1 L488.1,245.3 M488.1,245.3 L490.6,248.1 L491.8,250.8 M488.1,245.3 L484.4,248.2 L482.6,250.6 M482.6,250.6 L480.6,252.1 L477.8,254.7 M471.6,259.6 L469.2,263.2 L468.2,264.9 M462.4,269.5 L464.2,272.2 L467.8,275.3 M457.1,274.3 L459.5,276.0 L462.8,279.6 M452.6,279.5 L453.8,281.7 L456.7,284.4 M452.6,279.5 L450.1,282.3 L447.8,284.7 M447.8,284.7 L445.0,286.5 L442.1,290.1 M442.1,290.1 L444.9,292.1 L446.6,295.1 M437.4,294.6 L439.7,297.7 L442.4,299.6 M437.4,294.6 L434.7,296.9 L431.8,299.1 M428.5,304.6 L424.6,306.9 L422.0,309.3 M422.0,309.3 L424.8,311.5 L427.4,315.4 M417.8,315.8 L419.0,317.6 L422.0,320.8 M407.9,324.6 L411.1,326.4 L412.3,329.5 M497.4,246.2 L493.6,247.7 L491.8,250.8 M491.8,250.8 L495.0,253.1 L497.0,254.9 M491.8,250.8 L488.6,253.2 L486.9,255.0 M486.9,255.0 L489.1,258.0 L492.8,260.7 M476.4,265.0 L479.2,267.0 L482.8,270.3 M476.4,265.0 L473.7,268.1 L472.8,269.7 M467.8,275.3 L471.3,278.7 L473.0,280.6 M462.8,279.6 L459.4,281.1 L456.7,284.4 M456.7,284.4 L455.4,286.8 L452.2,290.0 M452.2,290.0 L455.9,293.1 L458.2,294.4 M442.4,299.6 L444.8,301.5 L446.7,305.1 M437.7,305.9 L434.2,308.4 L432.1,310.7 M432.1,310.7 L434.5,312.2 L437.1,315.4 M432.1,310.7 L430.4,313.5 L427.4,315.4 M427.4,315.4 L424.6,317.2 L422.0,320.8 M422.0,320.8 L419.7,322.5 L417.7,325.7 M417.7,325.7 L419.7,326.6 L423.4,329.0 M417.7,325.7 L414.9,326.9 L412.3,329.5 M408.4,334.0 L404.8,336.5 L402.5,340.0 M497.0,254.9 L495.2,258.1 L492.8,260.7 M492.8,260.7 L494.2,263.1 L496.7,265.8 M488.0,266.0 L484.9,267.3 L482.8,270.3 M482.8,270.3 L484.6,274.0 L486.7,276.0 M482.8,270.3 L479.9,271.4 L478.2,274.4 M478.2,274.4 L480.6,278.4 L481.8,280.9 M478.2,274.4 L474.7,277.7 L473.0,280.6 M473.0,280.6 L475.5,283.7 L477.6,285.1 M466.9,285.8 L470.2,287.4 L473.2,289.9 M462.3,290.2 L465.8,293.1 L467.8,295.3 M458.2,294.4 L461.1,296.9 L462.3,299.1 M458.2,294.4 L455.4,297.0 L452.1,300.3 M452.1,300.3 L453.8,302.6 L457.3,304.5 M452.1,300.3 L448.6,303.2 L446.7,305.1 M446.7,305.1 L450.0,307.5 L452.4,310.8 M446.7,305.1 L445.8,308.1 L443.2,309.9 M433.4,320.3 L430.3,322.7 L427.8,325.6 M427.8,325.6 L430.2,327.7 L433.5,329.2 M423.4,329.0 L419.5,331.2 L417.6,333.8 M417.6,333.8 L421.2,337.2 L423.4,340.3 M417.6,333.8 L415.0,336.7 L412.0,339.3 M412.0,339.3 L410.4,341.7 L408.7,345.2 M408.7,345.2 L410.3,348.5 L412.1,350.3 M496.7,265.8 L499.0,268.4 L501.0,271.0 M496.7,265.8 L493.5,268.7 L491.6,270.5 M491.6,270.5 L494.2,272.8 L497.9,276.0 M491.6,270.5 L488.5,272.4 L486.7,276.0 M486.7,276.0 L488.3,278.2 L491.1,279.9 M481.8,280.9 L479.9,282.6 L477.6,285.1 M477.6,285.1 L479.9,287.3 L481.4,290.7 M473.2,289.9 L476.0,292.7 L476.9,295.1 M473.2,289.9 L471.0,292.1 L467.8,295.3 M467.8,295.3 L469.6,298.2 L471.5,300.1 M462.3,299.1 L465.4,302.6 L466.6,304.1 M462.3,299.1 L460.8,302.1 L457.3,304.5 M457.3,304.5 L459.0,306.0 L462.4,309.5 M457.3,304.5 L455.3,307.9 L452.4,310.8 M452.4,310.8 L450.2,313.2 L447.1,315.2 M447.1,315.2 L445.4,317.4 L442.9,319.3 M442.9,319.3 L445.3,322.4 L447.0,324.7 M442.9,319.3 L441.1,321.6 L437.5,324.0 M437.5,324.0 L440.1,326.5 L442.7,329.6 M437.5,324.0 L436.3,326.0 L433.5,329.2 M433.5,329.2 L430.6,332.8 L427.6,334.3 M427.6,334.3 L431.2,335.6 L433.4,338.9 M423.4,340.3 L421.0,342.4 L418.0,344.6 M418.0,344.6 L420.0,347.1 L422.6,349.7 M412.1,350.3 L415.4,352.8 L418.6,355.4 M412.1,350.3 L410.2,352.4 L407.1,354.2 M407.1,354.2 L410.8,356.5 L412.7,358.4 M407.1,354.2 L405.0,357.7 L402.8,359.8 M497.9,276.0 L500.2,277.8 L502.0,279.7 M497.9,276.0 L493.9,277.4 L491.1,279.9 M491.1,279.9 L494.2,282.7 L497.5,285.1 M491.1,279.9 L489.4,282.5 L487.2,285.2 M481.4,290.7 L485.7,292.5 L488.1,294.1 M481.4,290.7 L478.6,293.3 L476.9,295.1 M476.9,295.1 L480.0,297.5 L482.4,300.9 M471.5,300.1 L475.0,302.5 L477.0,305.1 M471.5,300.1 L469.2,302.2 L466.6,304.1 M466.6,304.1 L469.4,307.7 L472.0,309.5 M462.4,309.5 L466.0,311.3 L467.6,315.0 M462.4,309.5 L460.9,311.5 L458.0,314.3 M458.0,314.3 L459.4,317.1 L462.0,319.8 M452.3,318.9 L454.2,321.1 L457.5,325.3 M452.3,318.9 L449.3,321.8 L447.0,324.7 M442.7,329.6 L441.4,332.1 L438.4,333.9 M438.4,333.9 L440.5,336.6 L443.2,339.4 M438.4,333.9 L436.7,336.3 L433.4,338.9 M433.4,338.9 L435.9,342.2 L438.4,344.4 M433.4,338.9 L431.2,340.9 L428.7,344.6 M428.7,344.6 L429.9,347.2 L432.3,349.9 M422.6,349.7 L425.1,352.7 L426.9,355.4 M418.6,355.4 L416.6,356.8 L412.7,358.4 M412.7,358.4 L414.5,360.9 L417.5,365.0 M407.3,365.0 L409.4,366.5 L413.5,369.6 M407.3,365.0 L404.8,366.9 L403.5,369.7 M497.5,285.1 L493.6,287.9 L491.1,289.9 M488.1,294.1 L490.2,297.6 L492.1,300.4 M482.4,300.9 L480.2,302.2 L477.0,305.1 M477.0,305.1 L479.2,307.1 L481.4,310.4 M477.0,305.1 L474.1,308.2 L472.0,309.5 M472.0,309.5 L474.9,313.2 L476.6,315.0 M472.0,309.5 L470.3,312.2 L467.6,315.0 M467.6,315.0 L468.9,317.6 L471.7,319.5 M462.0,319.8 L459.8,322.2 L457.5,325.3 M457.5,325.3 L460.6,326.5 L462.6,329.7 M457.5,325.3 L454.6,326.4 L451.6,328.9 M451.6,328.9 L449.1,331.0 L447.1,334.2 M447.1,334.2 L450.0,337.1 L453.2,339.3 M447.1,334.2 L445.7,336.9 L443.2,339.4 M443.2,339.4 L445.4,341.5 L447.7,344.5 M443.2,339.4 L441.7,341.9 L438.4,344.4 M438.4,344.4 L435.6,346.3 L432.3,349.9 M432.3,349.9 L434.4,350.9 L438.0,353.9 M426.9,355.4 L424.2,357.7 L423.5,359.1 M423.5,359.1 L421.0,361.2 L417.5,365.0 M417.5,365.0 L420.3,368.0 L421.9,369.9 M417.5,365.0 L415.5,367.9 L413.5,369.6 M497.4,295.9 L494.1,297.3 L492.1,300.4 M492.1,300.4 L494.4,302.9 L496.6,305.0 M492.1,300.4 L489.8,303.1 L486.9,305.5 M486.9,305.5 L484.9,308.0 L481.4,310.4 M471.7,319.5 L468.7,321.2 L466.7,324.4 M466.7,324.4 L464.9,327.2 L462.6,329.7 M462.6,329.7 L459.4,331.9 L457.2,334.8 M453.2,339.3 L454.8,342.1 L457.2,345.1 M453.2,339.3 L450.7,342.4 L447.7,344.5 M438.0,353.9 L440.7,357.0 L443.5,359.4 M438.0,353.9 L435.8,356.7 L432.2,359.9 M432.2,359.9 L435.0,361.7 L437.8,364.0 M432.2,359.9 L429.6,361.8 L427.9,363.9 M427.9,363.9 L425.7,367.8 L421.9,369.9 M496.6,305.0 L493.8,307.9 L492.8,309.2 M492.8,309.2 L494.1,312.5 L496.1,314.1 M482.4,319.9 L484.3,321.0 L486.2,323.8 M482.4,319.9 L480.1,323.0 L477.7,324.8 M477.7,324.8 L480.6,326.7 L482.9,330.1 M477.7,324.8 L474.3,327.8 L472.6,330.5 M472.6,330.5 L475.4,332.5 L477.3,334.8 M467.9,334.2 L465.5,336.7 L461.5,340.5 M461.5,340.5 L464.0,342.3 L466.4,343.7 M457.2,345.1 L455.5,347.2 L452.0,349.4 M452.0,349.4 L455.6,352.1 L458.1,354.3 M447.3,354.9 L449.2,356.9 L452.2,359.1 M447.3,354.9 L445.1,357.3 L443.5,359.4 M443.5,359.4 L444.5,361.4 L446.6,364.9 M443.5,359.4 L440.7,362.2 L437.8,364.0 M437.8,364.0 L440.8,367.0 L442.1,369.5 M496.1,314.1 L499.7,317.1 L501.7,320.7 M492.8,320.7 L495.5,323.3 L496.3,325.2 M492.8,320.7 L490.0,321.6 L486.2,323.8 M486.2,323.8 L489.3,326.1 L493.0,329.1 M486.2,323.8 L483.8,326.7 L482.9,330.1 M482.9,330.1 L485.2,332.2 L486.4,335.0 M477.3,334.8 L481.1,338.2 L483.0,340.1 M466.4,343.7 L464.9,346.2 L463.0,350.4 M463.0,350.4 L464.6,353.1 L466.9,355.3 M463.0,350.4 L461.1,351.5 L458.1,354.3 M458.1,354.3 L459.8,357.2 L461.5,358.8 M452.2,359.1 L455.0,360.7 L457.1,363.4 M446.6,364.9 L450.3,366.7 L452.1,368.7 M446.6,364.9 L444.0,368.1 L442.1,369.5 M496.3,325.2 L499.0,327.2 L502.8,329.0 M493.0,329.1 L489.4,332.5 L486.4,335.0 M486.4,335.0 L489.4,337.3 L491.7,338.9 M486.4,335.0 L483.8,336.9 L483.0,340.1 M483.0,340.1 L484.6,341.6 L487.6,344.0 M483.0,340.1 L479.6,342.3 L478.1,344.5 M478.1,344.5 L474.3,347.1 L472.0,348.7 M472.0,348.7 L474.4,351.4 L478.1,354.0 M472.0,348.7 L470.0,352.0 L466.9,355.3 M466.9,355.3 L468.9,356.6 L471.5,359.8 M461.5,358.8 L464.9,360.8 L467.0,364.5 M461.5,358.8 L459.4,360.4 L457.1,363.4 M457.1,363.4 L460.6,367.7 L462.4,370.1 M497.1,335.6 L500.1,337.4 L502.2,338.8 M497.1,335.6 L493.7,337.6 L491.7,338.9 M491.7,338.9 L494.9,340.4 L497.5,343.7 M491.7,338.9 L488.9,342.0 L487.6,344.0 M487.6,344.0 L489.8,347.6 L492.8,350.0 M487.6,344.0 L484.6,346.2 L482.4,348.8 M482.4,348.8 L484.2,351.1 L487.7,355.2 M478.1,354.0 L475.7,357.0 L471.5,359.8 M471.5,359.8 L469.1,362.3 L467.0,364.5 M467.0,364.5 L469.9,366.4 L472.1,369.0 M497.5,343.7 L499.9,346.4 L502.4,349.4 M497.5,343.7 L494.3,346.3 L492.8,350.0 M492.8,350.0 L490.2,353.6 L487.7,355.2 M477.5,364.3 L479.2,367.1 L481.3,368.8 M477.5,364.3 L474.7,366.2 L472.1,369.0 M496.9,353.7 L500.0,357.0 L502.2,358.8 M496.9,353.7 L494.9,356.1 L492.0,360.3 M487.9,363.5 L484.7,366.0 L481.3,368.8"/>
<path d="M309.5,231.7 L312.8,229.6 L321.3,231.7 L329.9,230.7 L333.1,225.3 L336.3,220.0 L340.5,213.6 L344.8,215.7 L351.2,221.0 L359.8,227.4 L368.3,232.8 L376.9,237.1 L385.4,242.4 L394.0,247.8 L402.5,253.1 L411.1,257.4 L419.6,259.5 L428.2,260.6 L432.5,264.9 L431.4,271.3 L426.0,277.7 L422.8,286.2 L421.8,292.6 L428.2,294.8 L438.9,300.1 L447.4,305.5 L456.0,311.9 L464.5,318.3 L473.1,326.8 L478.4,335.4 L481.6,343.9 L483.6,343.8 L482.3,350.3 L477.1,354.2 L473.2,356.8 L468.0,352.9 L466.7,346.4 L462.8,343.8 L456.3,342.5 L451.1,341.2 L444.6,337.2 L439.4,337.2 L435.5,339.9 L432.9,343.8 L430.3,347.7 L425.1,351.6 L421.2,354.2 L414.6,355.5 L409.4,356.8 L405.5,354.2 L401.6,349.0 L396.4,347.7 L391.2,349.0 L389.9,350.9 L395.1,354.2 L399.0,358.1 L402.9,363.3 L405.5,368.5 L405.5,373.7 L403.0,380.4 L391.8,386.0 L379.3,390.2 L373.7,386.0 L370.9,380.4 L369.5,367.9 L368.1,360.9 L358.4,360.9 L350.0,360.9 L340.5,356.8 L332.0,361.0 L323.4,363.2 L319.2,362.1 L312.8,358.9 L302.1,360.0 L297.8,354.6 L291.4,347.1 L285.0,339.7 L279.6,333.3 L287.1,329.0 L293.5,323.6 L302.1,321.5 L310.6,316.2 L312.8,307.6 L312.8,301.2 L314.9,293.7 L318.1,293.7 L321.3,296.9 L326.6,300.1 L334.1,298.6 L342.7,295.2 L351.2,292.6 L354.4,289.4 L350.2,284.1 L342.7,281.5 L332.0,280.2 L322.4,279.8 L324.5,275.5 L326.6,269.1 L324.5,261.6 L317.0,256.3 L311.7,249.9 L308.5,241.3Z" fill="none" stroke="#1c1c1c" stroke-width="2.4" stroke-linejoin="round"/>
<path d="M193.6,396.8 L212.4,414.3 L234.7,392.0 L238.3,393.8 L245.6,401.6 L255.8,411.3 L262.5,422.2 L268.5,418.5 L273.4,422.2 M299.9,361.1 L283.0,378.7 L269.7,394.4 L273.4,399.2 L279.4,407.7 L285.4,403.4 L289.7,408.3 L274.6,422.2 L268.5,427.0 L267.9,434.2 L266.7,440.0 L271.6,449.2 L275.1,460.8 L276.3,473.6 L284.4,468.9 L292.5,463.1 L300.7,468.9 L307.6,475.9 L315.8,467.8 L322.7,460.8 L327.4,460.8 L334.3,465.5 L343.6,470.1 L351.8,474.8 L359.9,479.4 L369.2,472.4 L378.5,466.6 L383.1,463.1 L385.5,471.3 L394.8,463.1 L408.7,450.4 L399.4,441.1 L388.9,430.6 L393.6,422.5 L399.4,414.3 L408.7,409.7 L418.0,395.8 L409.9,387.6 L401.7,379.5 L403.5,376.5 M359.5,480.0 L356.5,485.9 L352.0,491.9 L345.4,500.8 L347.6,508.3 L355.0,509.7 L358.0,517.2 L359.5,523.9" fill="none" stroke="#1c1c1c" stroke-width="2.2" stroke-linejoin="round"/>
<path d="M193.2,274.9 L271.2,274.1 L310.7,234.0 L309.5,231.7 L312.8,229.6 L321.3,231.7 L329.9,230.7 L333.1,225.3 L336.3,220.0 L340.5,213.6 L344.8,215.7 L351.2,221.0 L359.8,227.4 L368.3,232.8 L376.9,237.1 L385.4,242.4 L394.0,247.8 L402.5,253.1 L411.1,257.4 L419.6,259.5 L428.2,260.6 L432.5,264.9 L431.4,271.3 L426.0,277.7 L422.8,286.2 L421.8,292.6 L428.2,294.8 L438.9,300.1 L447.4,305.5 L456.0,311.9 L464.5,318.3 L473.1,326.8 L478.4,335.4 L481.6,343.9 L483.6,343.8 L482.3,350.3 L477.1,354.2 L473.2,356.8 L470.6,360.7 L469.3,364.6 L470.6,371.1 L471.9,380.1 L474.9,384.1 L483.0,390.0 L494.7,392.3 L498.2,395.8 L499.3,407.4 L498.2,419.0 L494.7,428.3 L490.0,437.6 L483.0,446.9 L473.8,456.2 L466.8,465.5 L461.0,474.8 L456.1,480.0 L455.4,488.9 L453.2,494.1 L445.7,499.3 L433.8,505.3 L419.0,511.2 L404.1,515.7 L389.2,520.1 L374.3,523.9 L359.5,526.1 L344.6,529.1 L329.7,531.3 L314.9,533.5 L300.0,535.8 L296.0,535.2 L278.9,535.8 L267.0,534.9 L260.1,533.2 L253.3,529.8 L246.5,524.7 L241.4,521.2 L236.2,519.5 L233.7,521.2 L237.1,522.9 L239.6,526.4 L239.6,533.2 L240.5,540.0 L242.2,546.9 L244.8,552.0 L249.9,553.7 L252.4,558.8 L251.6,565.6 L250.7,574.2 L248.2,581.0 L241.4,582.7 L239.6,591.2 L237.9,599.8 L235.4,604.9 L233.7,610.0 L236.2,616.9 L239.6,622.0 L245.6,627.1 L243.9,633.9 L239.6,640.8 L231.1,645.9 L223.4,650.2 L219.2,647.6 L214.0,640.8 L207.2,635.6 L202.1,633.1 L194.4,632.2Z" fill="none" stroke="#1c1c1c" stroke-width="2.4" stroke-linejoin="round"/>
<text x="347" y="333.3" font-size="29.8" textLength="29.2" lengthAdjust="spacingAndGlyphs" class="ml">A1</text><text x="244.2" y="337.2" font-size="17.2" textLength="20.8" lengthAdjust="spacingAndGlyphs" class="ml">A2</text><text x="327.7" y="426" font-size="17" textLength="21.8" lengthAdjust="spacingAndGlyphs" class="ml">A3</text><text x="419" y="443.6" font-size="16.9" textLength="22.4" lengthAdjust="spacingAndGlyphs" class="ml">A4</text><text x="224.1" y="495.8" font-size="16.2" textLength="19.2" lengthAdjust="spacingAndGlyphs" class="ml">A5</text>
</svg>
<!--/MAP-->

<div id="legend" class="abs">
  <div class="abs lt" style="top:29.1px"><span style="letter-spacing:-0.22px">ESCALA DE RIESGOS ASOCIADOS A</span><br><span style="letter-spacing:0.25px">FENÓMENOS PRONOSTICADOS</span></div>
  <div class="abs sw" style="top:96px;background:#b0ce72"></div>
  <div class="abs li" style="top:112px">Sin fenómenos relevantes</div>
  <div class="abs sw" style="top:155px;background:#93c8ee"></div>
  <div class="abs li" style="top:159px">Riesgo muy bajo asociado a fenómenos<br>de poca relevancia</div>
  <div class="abs sw" style="top:214px;background:#fae632"></div>
  <div class="abs li" style="top:218px">Riesgo bajo asociado a fenómenos que<br>podrían tener algún impacto</div>
  <div class="abs sw" style="top:273px;background:#f3a63f"></div>
  <div class="abs li" style="top:277px">Riesgo moderado asociado a fenómenos<br>que podrían tener impacto importante</div>
  <div class="abs sw" style="top:332px;background:#e55357"></div>
  <div class="abs li" style="top:336px">Riesgo alto asociado a fenómenos con<br>posibles impactos severos</div>
</div>

<div id="tblbg" class="abs"></div>
<div id="ttl" class="abs">PANORAMA DE RIESGOS ASOCIADOS A FENÓMENOS METEOROLÓGICOS PARA ÁREA DE PRONÓSTICO 1</div>
<div class="abs th" style="left:33px;width:126px">Sábado 4</div>
<div class="abs th" style="left:162px;width:215px">Domingo 5</div>
<div class="abs th" style="left:379px;width:121px">Lunes 6</div>
<div class="abs th" style="left:502px;width:114px">Martes 7</div>
<div class="abs th" style="left:618px;width:137px">Miércoles 8</div>
<div class="abs th" style="left:758px;width:139px">Jueves 9</div>
<div class="abs th" style="left:899px;width:138px">Viernes 10</div>

<div class="abs td yel" style="left:33px;width:126px">Prob. de<br>lluvias y<br>tormentas<br>hacia la<br>noche sobre.<br>Algunas<br>localmente<br>fuertes<br>sobre el<br>oeste del<br>área.</div>
<div class="abs td org" style="left:162px;width:215px">Prob. de lluvias y<br>tormentas durante la<br>madrugada y la<br>mañana.<br>Algunas fuertes o<br>localmente severas por<br>la madrugada.<br><br>Ventoso del sudoeste en<br>la tarde, con posibles<br>lluvias débiles.</div>
<div class="abs td grn" style="left:379px;width:121px">Sin<br>fenómenos.</div>
<div class="abs td grn" style="left:502px;width:114px">Sin<br>fenómenos<br>.</div>
<div class="abs td grn" style="left:618px;width:137px">Sin<br>fenómenos.</div>
<div class="abs td grn" style="left:758px;width:139px">Sin<br>fenómenos.</div>
<div class="abs td grn" style="left:899px;width:138px">Sin<br>fenómenos.</div>

<div id="smn" class="abs">
  <div id="smnh" class="abs">Pronóstico del tiempo para La Plata (SMN) / Para más Información de tu localidad ingresá a www.smn.gob.ar</div>
  <div id="smnb" class="abs"></div>
</div>

<!--SMN-->
<svg class="abs" style="left:37px;top:1058px;filter:blur(0.3px)" width="999" height="230" viewBox="37 1058 999 230">
<style>
.dn{font:12px "Liberation Sans",Arial,sans-serif;fill:#555}
.tl{font:9.25px "Liberation Sans",Arial,sans-serif;fill:#666}
.sl{font:9px "Liberation Sans",Arial,sans-serif;fill:#555}
.pc{font:8.5px "Liberation Sans",Arial,sans-serif;fill:#7a7a7a}
.tc{font:9.5px "Liberation Sans",Arial,sans-serif;fill:#444}
.wc{font:9.5px "Liberation Sans",Arial,sans-serif;fill:#555}
.ds{font:9px "Liberation Sans",Arial,sans-serif;fill:#aaa}
.lb{font:bold 9.5px "Liberation Sans",Arial,sans-serif;fill:#3d3d3d}
.lp{letter-spacing:0.35px;font:bold 21px "Liberation Sans",Arial,sans-serif;fill:#1e1e1e}
</style>
<defs>
<g id="i_sc"><g stroke="#f4d363" stroke-width="1.35" stroke-linecap="round"><line x1="20.00" y1="4.80" x2="20.00" y2="1.40"/><line x1="25.60" y1="6.30" x2="27.30" y2="3.36"/><line x1="14.40" y1="6.30" x2="12.70" y2="3.36"/><line x1="29.70" y1="10.40" x2="32.64" y2="8.70"/><line x1="10.30" y1="10.40" x2="7.36" y2="8.70"/><line x1="31.20" y1="16.00" x2="34.60" y2="16.00"/><line x1="8.80" y1="16.00" x2="5.40" y2="16.00"/><line x1="25.60" y1="25.70" x2="27.30" y2="28.64"/><line x1="20.00" y1="27.20" x2="20.00" y2="30.60"/><line x1="14.40" y1="25.70" x2="12.70" y2="28.64"/></g><circle cx="20" cy="16" r="9.6" fill="#f2c93e"/><g fill="#c3c4c5"><rect x="3.10" y="20.75" width="17.50" height="5.95" rx="2.97"/><circle cx="13.95" cy="19.56" r="4.76"/><circle cx="8.00" cy="21.94" r="3.81"/></g><g fill="#c3c4c5"><rect x="21.60" y="22.55" width="14.80" height="4.15" rx="2.08"/><circle cx="27.52" cy="21.72" r="3.49"/><circle cx="32.26" cy="22.96" r="2.66"/></g><path d="M18.4,20 L21.6,20 L21,27.5 L19,27.5Z" fill="#f2c93e"/></g>
<g id="i_sb"><g stroke="#f4d363" stroke-width="1.35" stroke-linecap="round"><line x1="14.00" y1="3.00" x2="14.00" y2="-0.20"/><line x1="19.33" y1="4.68" x2="21.17" y2="2.06"/><line x1="8.67" y1="4.68" x2="6.83" y2="2.06"/><line x1="5.26" y1="9.12" x2="2.25" y2="8.02"/><line x1="22.74" y1="9.12" x2="25.75" y2="8.02"/><line x1="4.70" y1="12.30" x2="1.50" y2="12.30"/></g><circle cx="14" cy="12.3" r="7.6" fill="#f2c93e"/><g fill="#d2d3d5"><rect x="4.50" y="18.70" width="33.00" height="11.70" rx="5.85"/><circle cx="26.65" cy="17.08" r="8.48"/><circle cx="14.72" cy="21.92" r="5.65"/></g><g fill="#e6e7e9"><rect x="5.30" y="19.50" width="31.40" height="10.10" rx="5.05"/><circle cx="26.65" cy="17.08" r="7.68"/><circle cx="14.72" cy="21.92" r="4.85"/></g></g>
<g id="i_st"><g fill="#a9aaac"><rect x="9.00" y="11.00" width="29.40" height="10.00" rx="5.00"/><circle cx="25.17" cy="9.40" r="8.40"/><circle cx="16.35" cy="12.00" r="6.00"/></g><g fill="#c8c9ca"><rect x="2.00" y="16.05" width="20.70" height="7.55" rx="3.78"/><circle cx="13.38" cy="14.54" r="6.04"/><circle cx="7.17" cy="17.56" r="4.53"/></g><g stroke="#7fb3db" stroke-width="1.5" stroke-linecap="round"><line x1="5.00" y1="23.2" x2="4.20" y2="28.4"/><line x1="8.00" y1="23.2" x2="7.20" y2="28.4"/><line x1="11.00" y1="23.2" x2="10.20" y2="28.4"/><line x1="14.00" y1="23.2" x2="13.20" y2="28.4"/></g><path fill="#dca43c" d="M16.80,21.80 L20.85,21.80 L19.14,25.04 L21.30,25.04 L16.17,31.25 L17.52,26.57 L15.54,26.57Z"/></g>
<g id="i_sh"><g fill="#d6d6d7"><rect x="11.00" y="11.25" width="26.00" height="9.75" rx="4.88"/><circle cx="24.00" cy="9.69" r="8.19"/><circle cx="16.72" cy="13.20" r="5.85"/></g><g fill="#aaabac"><rect x="3.00" y="11.25" width="19.00" height="6.25" rx="3.12"/><circle cx="13.45" cy="10.25" r="5.25"/><circle cx="7.75" cy="12.50" r="3.75"/></g><g stroke="#88bfe3" stroke-width="1.4" stroke-linecap="round"><line x1="8.00" y1="18.8" x2="4.40" y2="31"/><line x1="11.00" y1="18.8" x2="7.40" y2="31"/><line x1="14.00" y1="18.8" x2="10.40" y2="31"/><line x1="17.00" y1="18.8" x2="13.40" y2="31"/><line x1="20.00" y1="18.8" x2="16.40" y2="31"/></g><path fill="#dca43c" d="M23.80,17.50 L28.98,17.50 L26.79,21.64 L29.55,21.64 L23.00,29.57 L24.72,23.59 L22.19,23.59Z"/></g>
<g id="i_rs"><g stroke="#f4d363" stroke-width="1.2" stroke-linecap="round"><line x1="22.00" y1="-0.20" x2="22.00" y2="-2.60"/><line x1="25.73" y1="1.16" x2="27.27" y2="-0.68"/><line x1="18.27" y1="1.16" x2="16.73" y2="-0.68"/><line x1="16.40" y1="4.10" x2="14.08" y2="3.48"/><line x1="27.60" y1="4.10" x2="29.92" y2="3.48"/></g><circle cx="22" cy="5.6" r="4.6" fill="#f2c93e"/><g fill="#c9cacb"><rect x="15.00" y="13.25" width="23.00" height="10.25" rx="5.12"/><circle cx="26.04" cy="11.20" r="8.61"/><circle cx="33.40" cy="14.28" r="6.15"/></g><g fill="#a9aaab"><rect x="2.50" y="13.75" width="18.50" height="6.25" rx="3.12"/><circle cx="12.68" cy="12.75" r="5.25"/><circle cx="7.12" cy="15.00" r="3.75"/></g><g stroke="#7fb3db" stroke-width="1.5" stroke-linecap="round"><line x1="5.00" y1="21.2" x2="5.00" y2="28"/><line x1="8.20" y1="21.2" x2="8.20" y2="28"/><line x1="11.40" y1="21.2" x2="11.40" y2="28"/><line x1="14.60" y1="21.2" x2="14.60" y2="28"/></g><g stroke="#7fb3db" stroke-width="1.5" stroke-linecap="round"><line x1="23.50" y1="24.8" x2="23.50" y2="33"/><line x1="27.00" y1="24.8" x2="27.00" y2="33"/><line x1="30.50" y1="24.8" x2="30.50" y2="33"/><line x1="34.00" y1="24.8" x2="34.00" y2="33"/></g></g>
<g id="i_rn"><g fill="#a9aaac"><rect x="10.00" y="11.50" width="28.50" height="10.00" rx="5.00"/><circle cx="25.68" cy="9.90" r="8.40"/><circle cx="17.12" cy="12.50" r="6.00"/></g><g fill="#c8c9ca"><rect x="3.00" y="16.25" width="21.00" height="7.75" rx="3.88"/><circle cx="14.55" cy="14.70" r="6.20"/><circle cx="8.25" cy="17.80" r="4.65"/></g><g stroke="#7fb3db" stroke-width="1.5" stroke-linecap="round"><line x1="8.00" y1="25.3" x2="7.20" y2="29.8"/><line x1="11.00" y1="25.3" x2="10.20" y2="29.8"/><line x1="14.00" y1="25.3" x2="13.20" y2="29.8"/><line x1="17.00" y1="25.3" x2="16.20" y2="29.8"/></g></g>
<g id="i_sl"><g stroke="#f4d363" stroke-width="1.35" stroke-linecap="round"><line x1="22.00" y1="4.80" x2="22.00" y2="1.40"/><line x1="27.60" y1="6.30" x2="29.30" y2="3.36"/><line x1="16.40" y1="6.30" x2="14.70" y2="3.36"/><line x1="31.70" y1="10.40" x2="34.64" y2="8.70"/><line x1="33.20" y1="16.00" x2="36.60" y2="16.00"/><line x1="31.70" y1="21.60" x2="34.64" y2="23.30"/><line x1="27.60" y1="25.70" x2="29.30" y2="28.64"/><line x1="22.00" y1="27.20" x2="22.00" y2="30.60"/><line x1="16.40" y1="25.70" x2="14.70" y2="28.64"/></g><circle cx="22" cy="16" r="9.6" fill="#f2c93e"/><g fill="#d3d4d6"><rect x="2.70" y="14.70" width="19.10" height="8.10" rx="4.05"/><circle cx="14.00" cy="14.20" r="6.00"/><circle cx="8.40" cy="16.80" r="4.70"/></g><g fill="#e4e5e7"><rect x="3.50" y="15.50" width="17.50" height="6.50" rx="3.25"/><circle cx="14.00" cy="14.20" r="5.20"/><circle cx="8.40" cy="16.80" r="3.90"/></g></g>
<g id="i_ar"><path d="M-1.05,-0.5 L1.05,-0.5 L1.05,5 L-1.05,5Z M-4.2,0.6 L0,-4.8 L4.2,0.6Z" fill="#3b3b3b"/></g>
</defs>
<path d="M416,1066 C412.3,1066 410.6,1069 410.6,1071.5 C410.6,1075 416,1081.5 416,1081.5 C416,1081.5 421.4,1075 421.4,1071.5 C421.4,1069 419.7,1066 416,1066Z M416,1069.5 A2,2 0 1 1 415.99,1069.5Z" fill="#5b87c6" fill-rule="evenodd"/>
<text class="lp" x="432.5" y="1081">La Plata, Buenos Aires</text>
<line x1="168.5" y1="1097" x2="168.5" y2="1281" stroke="#e3e3e3" stroke-width="1"/>
<text class="dn" x="256.5" y="1112.6" text-anchor="middle">Sábado 4</text>
<text class="tl" x="256.5" y="1127.0" text-anchor="middle">Temp. Máx 27° | Temp. Min 17°</text>
<text class="sl" x="191.5" y="1142.3" text-anchor="middle">M</text>
<text class="sl" x="234.5" y="1142.3" text-anchor="middle">M</text>
<text class="sl" x="277.5" y="1142.3" text-anchor="middle">T</text>
<text class="sl" x="320.5" y="1142.3" text-anchor="middle">N</text>
<use href="#i_sc" x="214.5" y="1149"/>
<text class="pc" x="234.5" y="1197.2" text-anchor="middle">0%</text>
<rect x="213.0" y="1203" width="43.0" height="16.2" fill="#f2d063"/>
<text class="tc" x="234.5" y="1214.6" text-anchor="middle">21</text>
<text class="wc" x="234.5" y="1231.3" text-anchor="middle">13 - 22</text>
<use href="#i_ar" transform="translate(234.5,1248.2) rotate(180)"/>
<text class="ds" x="234.5" y="1274.6" text-anchor="middle">-</text>
<use href="#i_sb" x="257.5" y="1149"/>
<text class="pc" x="277.5" y="1197.2" text-anchor="middle">0%</text>
<rect x="256.0" y="1203" width="43.0" height="16.2" fill="#efc23f"/>
<text class="tc" x="277.5" y="1214.6" text-anchor="middle">27</text>
<text class="wc" x="277.5" y="1231.3" text-anchor="middle">13 - 22</text>
<use href="#i_ar" transform="translate(277.5,1248.2) rotate(180)"/>
<text class="ds" x="277.5" y="1274.6" text-anchor="middle">-</text>
<use href="#i_st" x="300.5" y="1149"/>
<text class="pc" x="320.5" y="1197.2" text-anchor="middle">10 - 40%</text>
<rect x="299.0" y="1203" width="43.0" height="16.2" fill="#f2d063"/>
<text class="tc" x="320.5" y="1214.6" text-anchor="middle">20</text>
<text class="wc" x="320.5" y="1231.3" text-anchor="middle">13 - 22</text>
<use href="#i_ar" transform="translate(320.5,1248.2) rotate(225)"/>
<text class="ds" x="320.5" y="1274.6" text-anchor="middle">-</text>
<line x1="344.5" y1="1097" x2="344.5" y2="1281" stroke="#e3e3e3" stroke-width="1"/>
<text class="dn" x="432.5" y="1112.6" text-anchor="middle">Domingo 5</text>
<text class="tl" x="432.5" y="1127.0" text-anchor="middle">Temp. Máx 19° | Temp. Min 14°</text>
<text class="sl" x="367.5" y="1142.3" text-anchor="middle">M</text>
<text class="sl" x="410.5" y="1142.3" text-anchor="middle">M</text>
<text class="sl" x="453.5" y="1142.3" text-anchor="middle">T</text>
<text class="sl" x="496.5" y="1142.3" text-anchor="middle">N</text>
<use href="#i_sh" x="347.5" y="1149"/>
<text class="pc" x="367.5" y="1197.2" text-anchor="middle">70 - 100%</text>
<rect x="346.0" y="1203" width="43.0" height="16.2" fill="#9ec93a"/>
<text class="tc" x="367.5" y="1214.6" text-anchor="middle">14</text>
<rect x="346.0" y="1220.2" width="43.0" height="15.2" fill="#aecbf0"/>
<text class="wc" x="367.5" y="1231.3" text-anchor="middle">42 - 50</text>
<use href="#i_ar" transform="translate(367.5,1248.2) rotate(0)"/>
<rect x="346.0" y="1262.3" width="43.0" height="17.2" fill="#aecbf0"/>
<text class="wc" x="367.5" y="1274.6" text-anchor="middle">51 - 59</text>
<use href="#i_st" x="390.5" y="1149"/>
<text class="pc" x="410.5" y="1197.2" text-anchor="middle">40 - 70%</text>
<rect x="389.0" y="1203" width="43.0" height="16.2" fill="#e6f446"/>
<text class="tc" x="410.5" y="1214.6" text-anchor="middle">17</text>
<text class="wc" x="410.5" y="1231.3" text-anchor="middle">13 - 22</text>
<use href="#i_ar" transform="translate(410.5,1248.2) rotate(0)"/>
<text class="ds" x="410.5" y="1274.6" text-anchor="middle">-</text>
<use href="#i_rs" x="433.5" y="1149"/>
<text class="pc" x="453.5" y="1197.2" text-anchor="middle">40 - 70%</text>
<rect x="432.0" y="1203" width="43.0" height="16.2" fill="#e6f446"/>
<text class="tc" x="453.5" y="1214.6" text-anchor="middle">19</text>
<rect x="432.0" y="1220.2" width="43.0" height="15.2" fill="#dde7f5"/>
<text class="wc" x="453.5" y="1231.3" text-anchor="middle">23 - 31</text>
<use href="#i_ar" transform="translate(453.5,1248.2) rotate(0)"/>
<rect x="432.0" y="1262.3" width="43.0" height="17.2" fill="#aecbf0"/>
<text class="wc" x="453.5" y="1274.6" text-anchor="middle">42 - 50</text>
<use href="#i_rn" x="476.5" y="1149"/>
<text class="pc" x="496.5" y="1197.2" text-anchor="middle">40 - 70%</text>
<rect x="475.0" y="1203" width="43.0" height="16.2" fill="#9ec93a"/>
<text class="tc" x="496.5" y="1214.6" text-anchor="middle">14</text>
<rect x="475.0" y="1220.2" width="43.0" height="15.2" fill="#dde7f5"/>
<text class="wc" x="496.5" y="1231.3" text-anchor="middle">32 - 41</text>
<use href="#i_ar" transform="translate(496.5,1248.2) rotate(0)"/>
<rect x="475.0" y="1262.3" width="43.0" height="17.2" fill="#aecbf0"/>
<text class="wc" x="496.5" y="1274.6" text-anchor="middle">51 - 59</text>
<line x1="520.5" y1="1097" x2="520.5" y2="1281" stroke="#e3e3e3" stroke-width="1"/>
<text class="dn" x="571.2" y="1112.6" text-anchor="middle">Lunes 6</text>
<text class="tl" x="571.2" y="1127.0" text-anchor="middle">Máx 17° | Min 4°</text>
<text class="sl" x="546.4" y="1142.3" text-anchor="middle">M/M</text>
<text class="sl" x="595.1" y="1142.3" text-anchor="middle">T/N</text>
<use href="#i_sc" x="526.4" y="1149"/>
<text class="pc" x="546.4" y="1197.2" text-anchor="middle">0%</text>
<rect x="522.0" y="1203" width="48.8" height="16.2" fill="#6f98d2"/>
<text class="tc" x="546.4" y="1214.6" text-anchor="middle">4</text>
<text class="wc" x="546.4" y="1231.3" text-anchor="middle">13 - 22</text>
<use href="#i_ar" transform="translate(546.4,1248.2) rotate(0)"/>
<text class="ds" x="546.4" y="1274.6" text-anchor="middle">-</text>
<use href="#i_sb" x="575.1" y="1149"/>
<text class="pc" x="595.1" y="1197.2" text-anchor="middle">0%</text>
<rect x="570.8" y="1203" width="48.8" height="16.2" fill="#e7f54a"/>
<text class="tc" x="595.1" y="1214.6" text-anchor="middle">17</text>
<text class="wc" x="595.1" y="1231.3" text-anchor="middle">13 - 22</text>
<use href="#i_ar" transform="translate(595.1,1248.2) rotate(45)"/>
<text class="ds" x="595.1" y="1274.6" text-anchor="middle">-</text>
<line x1="622.0" y1="1097" x2="622.0" y2="1281" stroke="#e3e3e3" stroke-width="1"/>
<text class="dn" x="672.8" y="1112.6" text-anchor="middle">Martes 7</text>
<text class="tl" x="672.8" y="1127.0" text-anchor="middle">Máx 21° | Min 7°</text>
<text class="sl" x="647.9" y="1142.3" text-anchor="middle">M/M</text>
<text class="sl" x="696.6" y="1142.3" text-anchor="middle">T/N</text>
<use href="#i_sl" x="627.9" y="1149"/>
<text class="pc" x="647.9" y="1197.2" text-anchor="middle">0%</text>
<rect x="623.5" y="1203" width="48.8" height="16.2" fill="#c0d3ee"/>
<text class="tc" x="647.9" y="1214.6" text-anchor="middle">7</text>
<text class="wc" x="647.9" y="1231.3" text-anchor="middle">13 - 22</text>
<use href="#i_ar" transform="translate(647.9,1248.2) rotate(90)"/>
<text class="ds" x="647.9" y="1274.6" text-anchor="middle">-</text>
<use href="#i_sc" x="676.6" y="1149"/>
<text class="pc" x="696.6" y="1197.2" text-anchor="middle">0%</text>
<rect x="672.2" y="1203" width="48.8" height="16.2" fill="#f2d063"/>
<text class="tc" x="696.6" y="1214.6" text-anchor="middle">21</text>
<text class="wc" x="696.6" y="1231.3" text-anchor="middle">13 - 22</text>
<use href="#i_ar" transform="translate(696.6,1248.2) rotate(90)"/>
<text class="ds" x="696.6" y="1274.6" text-anchor="middle">-</text>
<line x1="723.5" y1="1097" x2="723.5" y2="1281" stroke="#e3e3e3" stroke-width="1"/>
<text class="dn" x="774.1" y="1112.6" text-anchor="middle">Miércoles 8</text>
<text class="tl" x="774.1" y="1127.0" text-anchor="middle">Máx 23° | Min 9°</text>
<text class="sl" x="749.3" y="1142.3" text-anchor="middle">M/M</text>
<text class="sl" x="798.0" y="1142.3" text-anchor="middle">T/N</text>
<use href="#i_sc" x="729.3" y="1149"/>
<text class="pc" x="749.3" y="1197.2" text-anchor="middle">0%</text>
<rect x="725.0" y="1203" width="48.6" height="16.2" fill="#c0d3ee"/>
<text class="tc" x="749.3" y="1214.6" text-anchor="middle">9</text>
<text class="wc" x="749.3" y="1231.3" text-anchor="middle">7 - 12</text>
<use href="#i_ar" transform="translate(749.3,1248.2) rotate(135)"/>
<text class="ds" x="749.3" y="1274.6" text-anchor="middle">-</text>
<use href="#i_sc" x="778.0" y="1149"/>
<text class="pc" x="798.0" y="1197.2" text-anchor="middle">0%</text>
<rect x="773.6" y="1203" width="48.6" height="16.2" fill="#f2d063"/>
<text class="tc" x="798.0" y="1214.6" text-anchor="middle">23</text>
<text class="wc" x="798.0" y="1231.3" text-anchor="middle">7 - 12</text>
<use href="#i_ar" transform="translate(798.0,1248.2) rotate(135)"/>
<text class="ds" x="798.0" y="1274.6" text-anchor="middle">-</text>
<line x1="824.8" y1="1097" x2="824.8" y2="1281" stroke="#e3e3e3" stroke-width="1"/>
<text class="dn" x="875.4" y="1112.6" text-anchor="middle">Jueves 9</text>
<text class="tl" x="875.4" y="1127.0" text-anchor="middle">Máx 24° | Min 11°</text>
<text class="sl" x="850.6" y="1142.3" text-anchor="middle">M/M</text>
<text class="sl" x="899.2" y="1142.3" text-anchor="middle">T/N</text>
<use href="#i_sc" x="830.6" y="1149"/>
<text class="pc" x="850.6" y="1197.2" text-anchor="middle">0%</text>
<rect x="826.3" y="1203" width="48.6" height="16.2" fill="#9ec93a"/>
<text class="tc" x="850.6" y="1214.6" text-anchor="middle">11</text>
<text class="wc" x="850.6" y="1231.3" text-anchor="middle">13 - 22</text>
<use href="#i_ar" transform="translate(850.6,1248.2) rotate(180)"/>
<text class="ds" x="850.6" y="1274.6" text-anchor="middle">-</text>
<use href="#i_sc" x="879.2" y="1149"/>
<text class="pc" x="899.2" y="1197.2" text-anchor="middle">0%</text>
<rect x="874.9" y="1203" width="48.6" height="16.2" fill="#f2d063"/>
<text class="tc" x="899.2" y="1214.6" text-anchor="middle">24</text>
<text class="wc" x="899.2" y="1231.3" text-anchor="middle">13 - 22</text>
<use href="#i_ar" transform="translate(899.2,1248.2) rotate(180)"/>
<text class="ds" x="899.2" y="1274.6" text-anchor="middle">-</text>
<line x1="926.0" y1="1097" x2="926.0" y2="1281" stroke="#e3e3e3" stroke-width="1"/>
<text class="dn" x="976.6" y="1112.6" text-anchor="middle">Viernes 10</text>
<text class="tl" x="976.6" y="1127.0" text-anchor="middle">Máx 26° | Min 12°</text>
<text class="sl" x="951.8" y="1142.3" text-anchor="middle">M/M</text>
<text class="sl" x="1000.4" y="1142.3" text-anchor="middle">T/N</text>
<use href="#i_sb" x="931.8" y="1149"/>
<text class="pc" x="951.8" y="1197.2" text-anchor="middle">0%</text>
<rect x="927.5" y="1203" width="48.6" height="16.2" fill="#9ec93a"/>
<text class="tc" x="951.8" y="1214.6" text-anchor="middle">12</text>
<text class="wc" x="951.8" y="1231.3" text-anchor="middle">7 - 12</text>
<use href="#i_ar" transform="translate(951.8,1248.2) rotate(180)"/>
<text class="ds" x="951.8" y="1274.6" text-anchor="middle">-</text>
<use href="#i_sb" x="980.4" y="1149"/>
<text class="pc" x="1000.4" y="1197.2" text-anchor="middle">0%</text>
<rect x="976.1" y="1203" width="48.6" height="16.2" fill="#efc23f"/>
<text class="tc" x="1000.4" y="1214.6" text-anchor="middle">26</text>
<text class="wc" x="1000.4" y="1231.3" text-anchor="middle">7 - 12</text>
<use href="#i_ar" transform="translate(1000.4,1248.2) rotate(180)"/>
<text class="ds" x="1000.4" y="1274.6" text-anchor="middle">-</text>
<text class="lb" x="54.7" y="1206.3" text-anchor="start">Prob. Precipitación</text>
<text class="lb" x="54.7" y="1222.9" text-anchor="start">Temperatura (°C)</text>
<text class="lb" x="54.7" y="1239.5" text-anchor="start">Viento (km/h)</text>
<text class="lb" x="54.7" y="1257.0" text-anchor="start">Dirección Predominante</text>
<text class="lb" x="54.7" y="1273.7" text-anchor="start">Ráfagas (km/h)</text>
</svg>
<!--/SMN-->
<div id="ban" class="abs grad"><div class="abs t"><span>Para más información de tu localidad ingresá a </span><b>www.smn.gob.ar</b></div></div>
<div id="foot" class="abs">
<svg class="abs" style="left:0;top:1385px" width="140" height="137" viewBox="0 1385 140 137">
<defs><filter id="dsh" x="-20%" y="-20%" width="150%" height="150%"><feGaussianBlur in="SourceAlpha" stdDeviation="1.3"/><feOffset dx="2.5" dy="2.5"/><feComponentTransfer><feFuncA type="linear" slope="0.85"/></feComponentTransfer><feMerge><feMergeNode/><feMergeNode in="SourceGraphic"/></feMerge></filter></defs>
<path filter="url(#dsh)" fill="#f2d92f" d="M36.5,1417 L48,1417 L56,1411 L62.5,1407.5 L74,1409 L82.5,1412 L86,1417 L90,1420.5 L95.5,1426 L96.5,1431 L98.5,1433.5 L97,1437 L100.5,1441 L102.5,1446 L101,1452 L98,1456 L97,1462 L90,1468 L75,1470 L60,1470 L50,1469 L46,1472 L48.5,1478 L46,1483 L47.5,1488 L45,1493.5 L38.5,1495 L36.5,1493Z"/>
<path d="M69,1404.8 L104.8,1467.3 L40.2,1467.3Z" fill="#4a8fcd" stroke="#1f2d5c" stroke-width="1.1" stroke-linejoin="round"/>
<circle cx="70.8" cy="1445.8" r="16" fill="#fff" stroke="#27336a" stroke-width="0.9"/>
<text x="70.8" y="1452.6" text-anchor="middle" style="font:bold 18.5px 'Liberation Sans',Arial,sans-serif;fill:#b2282e;letter-spacing:-0.6px">DC</text>
</svg>
<div class="abs ft" style="left:120px;width:154px;top:1436px;text-align:right">DIRECCIÓN PROVINCIAL<br>DE DEFENSA CIVIL</div>
<div class="abs vd" style="left:296px"></div>
<div class="abs ft" style="left:300px;width:184px;top:1436px;text-align:center">DIRECCIÓN PROVINCIAL DE<br>RIESGOS Y EMERGENCIAS</div>
<div class="abs vd" style="left:496px"></div>
<div class="abs ft" style="left:500px;width:136px;top:1436px;text-align:right">SUBSECRETARÍA DE<br>EMERGENCIAS</div>
<div class="abs vd" style="left:658px"></div>
<div class="abs ft" style="left:660px;width:112px;top:1436px;text-align:right">MINISTERIO DE<br>SEGURIDAD</div>
<div class="abs vd" style="left:797px"></div>
<svg class="abs" style="left:808px;top:1398px" width="80" height="100" viewBox="0 0 1076 1345">
<defs><linearGradient id="gg" gradientUnits="userSpaceOnUse" x1="150" y1="120" x2="520" y2="1250"><stop offset="0" stop-color="#d4358e"/><stop offset="0.18" stop-color="#9a5aa5"/><stop offset="0.38" stop-color="#5a78ab"/><stop offset="0.6" stop-color="#2f92b5"/><stop offset="0.8" stop-color="#2aaec2"/><stop offset="1" stop-color="#45c8d2"/></linearGradient></defs>
<g fill="none" stroke="url(#gg)" stroke-width="21" stroke-linejoin="round" stroke-linecap="round">
<path d="M110,210 L110,1250 M110,210 C170,190 240,200 300,230 M130,230 L130,420"/>
<path d="M410,250 L410,110 L440,90 L470,110 L500,90 L530,110 L540,100 L540,250 M545,250 L545,125 L640,125 L640,260 M480,260 L480,190 L545,190"/>
<path d="M250,280 C330,250 420,280 520,300 C620,320 720,300 830,330 M260,330 C350,300 450,320 540,340 C640,360 740,340 840,360"/>
<path d="M700,300 C720,250 790,250 810,300"/>
<path d="M110,640 C250,600 420,560 560,580 C650,590 720,620 860,650 M110,700 C250,660 400,640 520,650 M200,760 C300,730 420,720 480,740"/>
<path d="M130,540 C130,470 160,450 200,460 C230,440 270,460 290,500 C320,520 330,560 300,580 M200,575 A28,28 0 1 1 200.1,575"/>
<path d="M380,520 L380,470 C340,440 350,380 410,380 C470,380 480,440 440,470 L440,520 Z"/>
<path d="M520,560 C500,470 540,390 620,390 C700,370 780,380 810,420 C840,470 820,520 800,560 M580,560 L580,480 L660,420 L740,480 L740,560 M640,560 L640,510 L680,510 L680,560"/>
<path d="M850,380 C900,420 950,480 960,560 C960,640 930,700 900,760 C870,820 820,860 760,880 C700,900 640,930 560,950 C500,960 440,970 400,970"/>
<path d="M585,730 L585,670 M585,730 L640,700 M585,730 L640,770 M585,730 L530,700 M585,730 L530,770 M585,730 L585,790 M560,800 L520,940 M610,800 L650,940"/>
<path d="M330,760 L480,720 L470,900 L330,900 Z M360,800 L450,790 M360,840 L450,830"/>
<path d="M680,760 C720,720 800,700 850,720 C900,740 880,820 830,850 C780,880 720,870 700,840"/>
<path d="M110,780 C180,760 250,770 300,800 M110,860 C180,840 250,860 310,900 M110,920 C170,900 230,930 280,970"/>
<path d="M110,1000 L240,980 L290,1230 L160,1260 L110,1250 M140,1050 L250,1030 M150,1110 L260,1090 M160,1170 L270,1150"/>
<path d="M140,260 L140,400 M170,250 L170,330 M300,300 L300,340 M350,290 L350,330 M400,300 L400,340 M450,310 L450,350 M500,320 L500,355 M560,330 L560,365 M620,330 L620,370 M700,335 L700,370"/>
<path d="M580,190 A12,12 0 1 1 580.1,190 M430,160 L520,160 M560,200 L620,200"/>
<path d="M130,600 C200,570 260,560 320,570 M330,620 C420,600 520,600 600,620 M380,680 C470,670 560,670 640,690"/>
<path d="M720,460 C740,420 780,410 800,440 M840,560 L900,600 M870,480 L920,520 M880,640 L930,690"/>
<path d="M520,1000 C600,980 680,960 740,920 M350,1010 C420,1000 480,990 520,1000"/>
<path d="M700,790 L740,760 L790,780 L820,820 L780,850"/>
</g></svg>
<div class="abs" style="left:889px;top:1433.3px;font:bold 10.85px 'Liberation Sans',Arial,sans-serif;color:#6b6b6b;-webkit-text-stroke:0.25px #6b6b6b;white-space:nowrap;line-height:11px">GOBIERNO DE LA PROVINCIA DE</div>
<div class="abs" style="left:888px;top:1445px;font:bold 23.2px 'Liberation Sans',Arial,sans-serif;color:#22a8c4;-webkit-text-stroke:0.4px #22a8c4;white-space:nowrap;line-height:22px">BUENOS AIRES</div>
</div>
</body>
</html>
